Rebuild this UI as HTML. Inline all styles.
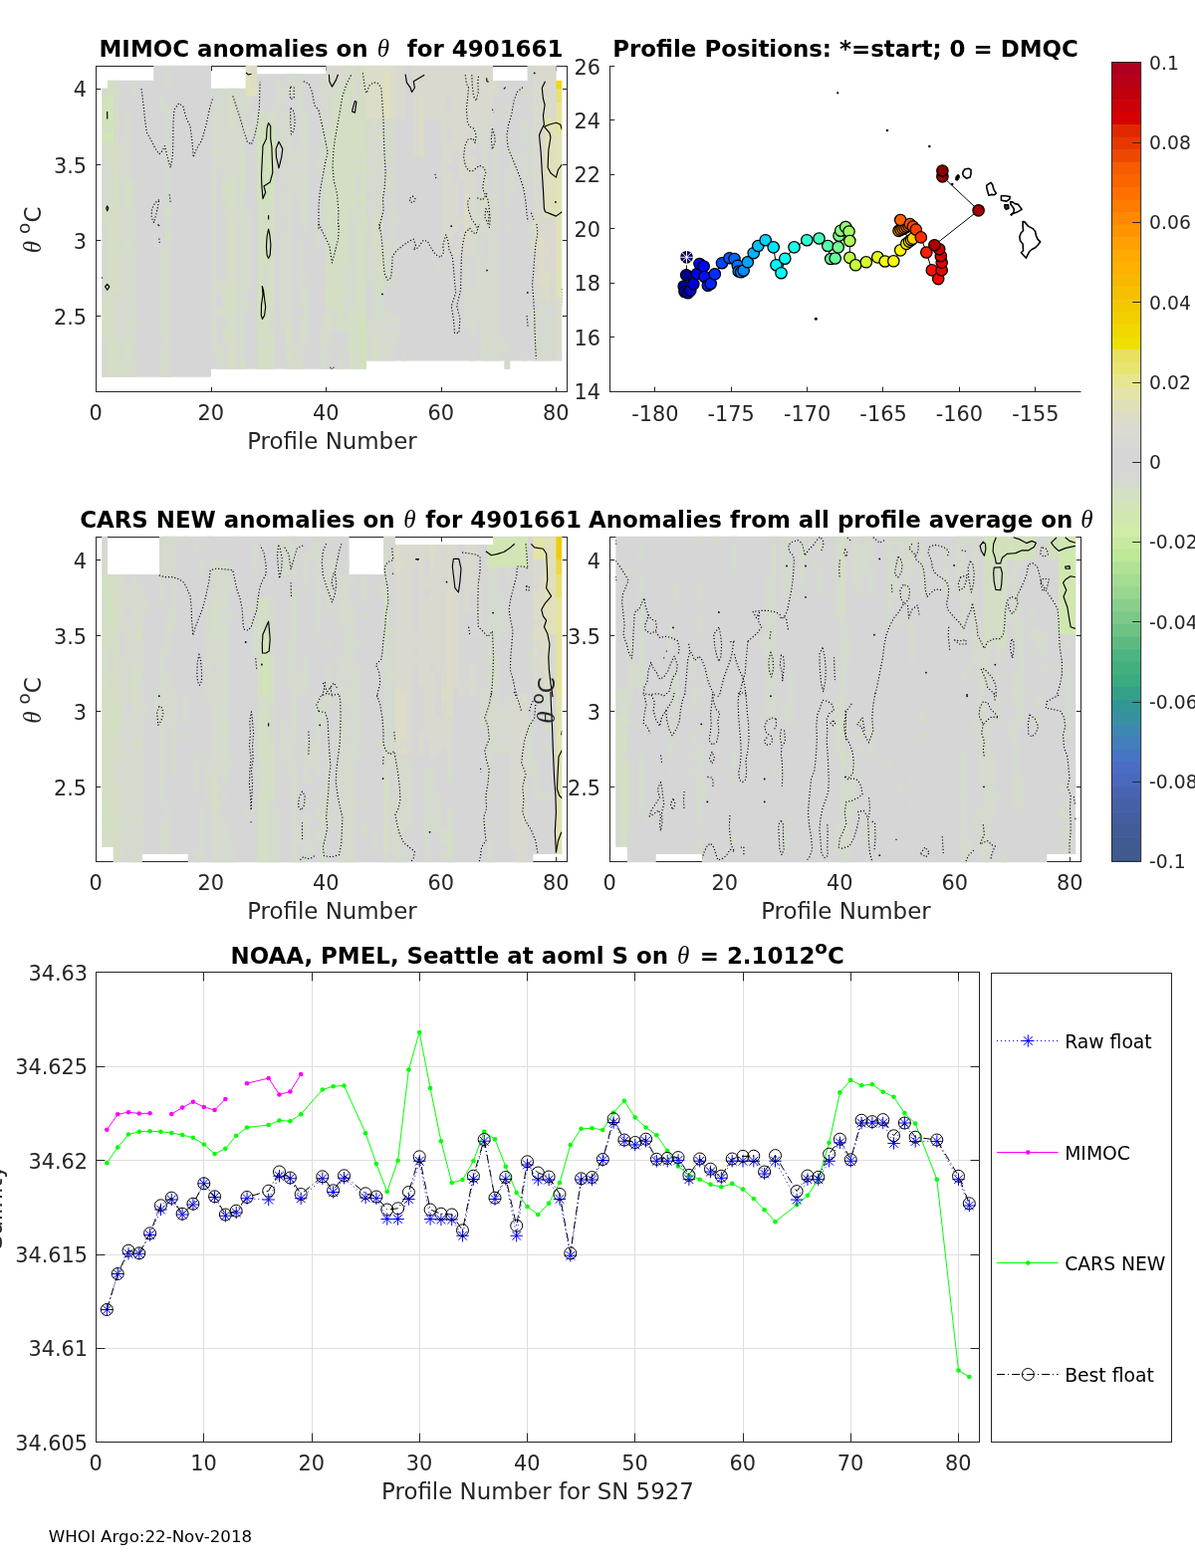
<!DOCTYPE html>
<html><head><meta charset="utf-8"><title>Argo float 4901661 anomalies</title>
<style>html,body{margin:0;padding:0;background:#fff}svg{display:block}text{font-family:'DejaVu Sans', 'Liberation Sans', sans-serif}</style></head><body>
<svg width="1200" height="1575" viewBox="0 0 1200 1575">
<rect width="1200" height="1575" fill="#fff"/>
<rect x="96.5" y="66.5" width="473.0" height="327.0" fill="none" stroke="#262626" stroke-width="1"/>
<line x1="96.50" y1="393.50" x2="96.50" y2="388.80" stroke="#262626" stroke-width="1" />
<line x1="96.50" y1="66.50" x2="96.50" y2="71.20" stroke="#262626" stroke-width="1" />
<line x1="212.50" y1="393.50" x2="212.50" y2="388.80" stroke="#262626" stroke-width="1" />
<line x1="212.50" y1="66.50" x2="212.50" y2="71.20" stroke="#262626" stroke-width="1" />
<line x1="327.50" y1="393.50" x2="327.50" y2="388.80" stroke="#262626" stroke-width="1" />
<line x1="327.50" y1="66.50" x2="327.50" y2="71.20" stroke="#262626" stroke-width="1" />
<line x1="443.50" y1="393.50" x2="443.50" y2="388.80" stroke="#262626" stroke-width="1" />
<line x1="443.50" y1="66.50" x2="443.50" y2="71.20" stroke="#262626" stroke-width="1" />
<line x1="558.50" y1="393.50" x2="558.50" y2="388.80" stroke="#262626" stroke-width="1" />
<line x1="558.50" y1="66.50" x2="558.50" y2="71.20" stroke="#262626" stroke-width="1" />
<line x1="96.50" y1="89.50" x2="101.20" y2="89.50" stroke="#262626" stroke-width="1" />
<line x1="569.50" y1="89.50" x2="564.80" y2="89.50" stroke="#262626" stroke-width="1" />
<line x1="96.50" y1="165.50" x2="101.20" y2="165.50" stroke="#262626" stroke-width="1" />
<line x1="569.50" y1="165.50" x2="564.80" y2="165.50" stroke="#262626" stroke-width="1" />
<line x1="96.50" y1="241.50" x2="101.20" y2="241.50" stroke="#262626" stroke-width="1" />
<line x1="569.50" y1="241.50" x2="564.80" y2="241.50" stroke="#262626" stroke-width="1" />
<line x1="96.50" y1="317.50" x2="101.20" y2="317.50" stroke="#262626" stroke-width="1" />
<line x1="569.50" y1="317.50" x2="564.80" y2="317.50" stroke="#262626" stroke-width="1" />
<rect x="96.5" y="539.5" width="473.0" height="326.0" fill="none" stroke="#262626" stroke-width="1"/>
<line x1="96.50" y1="865.50" x2="96.50" y2="860.80" stroke="#262626" stroke-width="1" />
<line x1="96.50" y1="539.50" x2="96.50" y2="544.20" stroke="#262626" stroke-width="1" />
<line x1="212.50" y1="865.50" x2="212.50" y2="860.80" stroke="#262626" stroke-width="1" />
<line x1="212.50" y1="539.50" x2="212.50" y2="544.20" stroke="#262626" stroke-width="1" />
<line x1="327.50" y1="865.50" x2="327.50" y2="860.80" stroke="#262626" stroke-width="1" />
<line x1="327.50" y1="539.50" x2="327.50" y2="544.20" stroke="#262626" stroke-width="1" />
<line x1="443.50" y1="865.50" x2="443.50" y2="860.80" stroke="#262626" stroke-width="1" />
<line x1="443.50" y1="539.50" x2="443.50" y2="544.20" stroke="#262626" stroke-width="1" />
<line x1="558.50" y1="865.50" x2="558.50" y2="860.80" stroke="#262626" stroke-width="1" />
<line x1="558.50" y1="539.50" x2="558.50" y2="544.20" stroke="#262626" stroke-width="1" />
<line x1="96.50" y1="562.50" x2="101.20" y2="562.50" stroke="#262626" stroke-width="1" />
<line x1="569.50" y1="562.50" x2="564.80" y2="562.50" stroke="#262626" stroke-width="1" />
<line x1="96.50" y1="638.50" x2="101.20" y2="638.50" stroke="#262626" stroke-width="1" />
<line x1="569.50" y1="638.50" x2="564.80" y2="638.50" stroke="#262626" stroke-width="1" />
<line x1="96.50" y1="714.50" x2="101.20" y2="714.50" stroke="#262626" stroke-width="1" />
<line x1="569.50" y1="714.50" x2="564.80" y2="714.50" stroke="#262626" stroke-width="1" />
<line x1="96.50" y1="790.50" x2="101.20" y2="790.50" stroke="#262626" stroke-width="1" />
<line x1="569.50" y1="790.50" x2="564.80" y2="790.50" stroke="#262626" stroke-width="1" />
<rect x="612.5" y="539.5" width="473.0" height="326.0" fill="none" stroke="#262626" stroke-width="1"/>
<line x1="612.50" y1="865.50" x2="612.50" y2="860.80" stroke="#262626" stroke-width="1" />
<line x1="612.50" y1="539.50" x2="612.50" y2="544.20" stroke="#262626" stroke-width="1" />
<line x1="728.50" y1="865.50" x2="728.50" y2="860.80" stroke="#262626" stroke-width="1" />
<line x1="728.50" y1="539.50" x2="728.50" y2="544.20" stroke="#262626" stroke-width="1" />
<line x1="843.50" y1="865.50" x2="843.50" y2="860.80" stroke="#262626" stroke-width="1" />
<line x1="843.50" y1="539.50" x2="843.50" y2="544.20" stroke="#262626" stroke-width="1" />
<line x1="959.50" y1="865.50" x2="959.50" y2="860.80" stroke="#262626" stroke-width="1" />
<line x1="959.50" y1="539.50" x2="959.50" y2="544.20" stroke="#262626" stroke-width="1" />
<line x1="1074.50" y1="865.50" x2="1074.50" y2="860.80" stroke="#262626" stroke-width="1" />
<line x1="1074.50" y1="539.50" x2="1074.50" y2="544.20" stroke="#262626" stroke-width="1" />
<line x1="612.50" y1="562.50" x2="617.20" y2="562.50" stroke="#262626" stroke-width="1" />
<line x1="1085.50" y1="562.50" x2="1080.80" y2="562.50" stroke="#262626" stroke-width="1" />
<line x1="612.50" y1="638.50" x2="617.20" y2="638.50" stroke="#262626" stroke-width="1" />
<line x1="1085.50" y1="638.50" x2="1080.80" y2="638.50" stroke="#262626" stroke-width="1" />
<line x1="612.50" y1="714.50" x2="617.20" y2="714.50" stroke="#262626" stroke-width="1" />
<line x1="1085.50" y1="714.50" x2="1080.80" y2="714.50" stroke="#262626" stroke-width="1" />
<line x1="612.50" y1="790.50" x2="617.20" y2="790.50" stroke="#262626" stroke-width="1" />
<line x1="1085.50" y1="790.50" x2="1080.80" y2="790.50" stroke="#262626" stroke-width="1" />
<defs>
<clipPath id="c1"><polygon points="102.3,88.8 108.0,88.8 108.0,80.8 154.2,80.8 154.2,65.8 212.0,65.8 212.0,88.8 246.7,88.8 246.7,65.8 258.2,65.8 258.2,74.2 327.5,74.2 327.5,65.8 495.0,65.8 495.0,81.0 529.6,81.0 529.6,65.8 558.5,65.8 558.5,81.0 564.3,81.0 564.3,362.6 512.3,362.6 512.3,370.7 506.5,370.7 506.5,362.6 367.9,362.6 367.9,370.7 212.0,370.7 212.0,378.8 102.3,378.8"/></clipPath>
<clipPath id="c3"><polygon points="102.3,538.8 108.0,538.8 108.0,577.0 160.0,577.0 160.0,538.8 350.6,538.8 350.6,577.0 385.2,577.0 385.2,538.8 396.8,538.8 396.8,547.0 495.0,547.0 495.0,538.8 564.3,538.8 564.3,858.0 535.4,858.0 535.4,866.2 188.9,866.2 188.9,858.0 142.7,858.0 142.7,866.2 113.8,866.2 113.8,850.8 102.3,850.8"/></clipPath>
<clipPath id="c4"><polygon points="618.3,538.8 1080.3,538.8 1080.3,858.0 1051.4,858.0 1051.4,866.2 704.9,866.2 704.9,858.0 658.7,858.0 658.7,866.2 629.8,866.2 629.8,850.8 618.3,850.8"/></clipPath>
<filter id="bl" x="-5%" y="-5%" width="110%" height="110%"><feGaussianBlur stdDeviation="2.2 7"/></filter>
</defs>
<g clip-path="url(#c1)">
<rect x="96" y="65" width="474" height="330" fill="#d6d6d6"/>
<g>
<path d="M102.3 66.0H108.3V96.7H102.3ZM102.3 157.3H108.3V210.9H102.3ZM102.3 225.8H108.3V302.2H102.3ZM102.3 339.9H108.3V385.9H102.3ZM108.0 164.9H114.1V203.3H108.0ZM113.8 66.0H119.9V89.1H113.8ZM113.8 96.4H119.9V111.9H113.8ZM113.8 126.8H119.9V142.4H113.8ZM113.8 294.3H119.9V340.2H113.8ZM113.8 378.0H119.9V385.9H113.8ZM119.6 66.0H125.7V73.9H119.6ZM119.6 142.1H125.7V203.3H119.6ZM119.6 210.6H125.7V385.9H119.6ZM125.4 111.6H131.5V180.4H125.4ZM125.4 210.6H131.5V241.3H125.4ZM125.4 248.6H131.5V340.2H125.4ZM125.4 362.8H131.5V370.7H125.4ZM131.2 81.2H137.2V96.7H131.2ZM131.2 180.1H137.2V317.4H131.2ZM131.2 324.7H137.2V385.9H131.2ZM160.0 96.4H166.1V111.9H160.0ZM160.0 248.6H166.1V340.2H160.0ZM160.0 347.5H166.1V385.9H160.0ZM165.8 66.0H171.9V89.1H165.8ZM165.8 104.0H171.9V210.9H165.8ZM165.8 218.2H171.9V233.7H165.8ZM165.8 241.0H171.9V385.9H165.8ZM212.0 88.8H218.1V96.7H212.0ZM212.0 104.0H218.1V150.0H212.0ZM212.0 157.3H218.1V355.5H212.0ZM217.8 88.8H223.9V172.8H217.8ZM217.8 279.1H223.9V294.6H217.8ZM217.8 309.5H223.9V317.4H217.8ZM217.8 347.5H223.9V385.9H217.8ZM223.6 88.8H229.6V180.4H223.6ZM223.6 202.9H229.6V287.0H223.6ZM223.6 317.1H229.6V332.6H223.6ZM223.6 339.9H229.6V385.9H223.6ZM229.3 66.0H235.4V89.1H229.3ZM229.3 126.8H235.4V172.8H229.3ZM229.3 210.6H235.4V218.5H229.3ZM235.1 66.0H241.2V81.5H235.1ZM235.1 88.8H241.2V385.9H235.1ZM240.9 88.8H247.0V157.6H240.9ZM240.9 187.7H247.0V363.1H240.9ZM240.9 370.4H247.0V385.9H240.9ZM246.7 96.4H252.7V111.9H246.7ZM246.7 126.8H252.7V134.8H246.7ZM246.7 210.6H252.7V294.6H246.7ZM246.7 301.9H252.7V309.8H246.7ZM252.4 111.6H258.5V119.5H252.4ZM252.4 126.8H258.5V134.8H252.4ZM264.0 111.6H270.1V119.5H264.0ZM264.0 263.8H270.1V287.0H264.0ZM264.0 339.9H270.1V347.8H264.0ZM264.0 378.0H270.1V385.9H264.0ZM269.8 248.6H275.8V256.5H269.8ZM269.8 309.5H275.8V332.6H269.8ZM269.8 378.0H275.8V385.9H269.8ZM275.5 81.2H281.6V150.0H275.5ZM281.3 88.8H287.4V104.3H281.3ZM281.3 111.6H287.4V157.6H281.3ZM281.3 164.9H287.4V188.0H281.3ZM281.3 195.3H287.4V218.5H281.3ZM281.3 233.4H287.4V332.6H281.3ZM287.1 66.0H293.2V96.7H287.1ZM287.1 111.6H293.2V325.0H287.1ZM287.1 347.5H293.2V355.5H287.1ZM287.1 362.8H293.2V385.9H287.1ZM292.9 66.0H298.9V96.7H292.9ZM292.9 149.7H298.9V165.2H292.9ZM292.9 172.5H298.9V195.6H292.9ZM292.9 347.5H298.9V385.9H292.9ZM298.6 66.0H304.7V226.1H298.6ZM298.6 241.0H304.7V309.8H298.6ZM298.6 317.1H304.7V363.1H298.6ZM298.6 378.0H304.7V385.9H298.6ZM304.4 111.6H310.5V233.7H304.4ZM304.4 271.4H310.5V279.4H304.4ZM304.4 286.7H310.5V347.8H304.4ZM316.0 157.3H322.0V172.8H316.0ZM316.0 225.8H322.0V248.9H316.0ZM321.7 73.6H327.8V104.3H321.7ZM321.7 111.6H327.8V226.1H321.7ZM321.7 317.1H327.8V385.9H321.7ZM327.5 88.8H333.6V134.8H327.5ZM327.5 332.3H333.6V347.8H327.5ZM327.5 355.2H333.6V363.1H327.5ZM327.5 370.4H333.6V378.3H327.5ZM333.3 81.2H339.4V96.7H333.3ZM333.3 309.5H339.4V332.6H333.3ZM333.3 370.4H339.4V385.9H333.3ZM339.1 81.2H345.1V89.1H339.1ZM339.1 355.2H345.1V370.7H339.1ZM344.8 81.2H350.9V89.1H344.8ZM344.8 263.8H350.9V325.0H344.8ZM344.8 339.9H350.9V355.5H344.8ZM344.8 370.4H350.9V378.3H344.8ZM350.6 96.4H356.7V104.3H350.6ZM350.6 210.6H356.7V309.8H350.6ZM356.4 66.0H362.5V96.7H356.4ZM356.4 157.3H362.5V165.2H356.4ZM356.4 172.5H362.5V195.6H356.4ZM356.4 202.9H362.5V210.9H356.4ZM356.4 218.2H362.5V226.1H356.4ZM367.9 119.2H374.0V188.0H367.9ZM367.9 202.9H374.0V210.9H367.9ZM367.9 218.2H374.0V279.4H367.9ZM367.9 324.7H374.0V385.9H367.9ZM373.7 126.8H379.8V218.5H373.7ZM373.7 248.6H379.8V332.6H373.7ZM373.7 362.8H379.8V385.9H373.7ZM379.5 119.2H385.6V134.8H379.5ZM379.5 142.1H385.6V157.6H379.5ZM379.5 164.9H385.6V248.9H379.5ZM379.5 294.3H385.6V363.1H379.5ZM385.2 119.2H391.3V165.2H385.2ZM385.2 172.5H391.3V188.0H385.2ZM385.2 241.0H391.3V287.0H385.2ZM385.2 309.5H391.3V385.9H385.2ZM391.0 119.2H397.1V264.1H391.0ZM391.0 271.4H397.1V287.0H391.0ZM391.0 317.1H397.1V325.0H391.0ZM391.0 332.3H397.1V385.9H391.0ZM396.8 218.2H402.9V226.1H396.8ZM396.8 248.6H402.9V256.5H396.8ZM396.8 317.1H402.9V340.2H396.8ZM402.6 355.2H408.7V363.1H402.6ZM437.2 263.8H443.3V271.7H437.2ZM466.1 263.8H472.2V325.0H466.1ZM471.9 286.7H478.0V340.2H471.9ZM471.9 355.2H478.0V385.9H471.9ZM477.7 126.8H483.7V142.4H477.7ZM477.7 195.3H483.7V317.4H477.7ZM483.4 119.2H489.5V195.6H483.4ZM483.4 202.9H489.5V233.7H483.4ZM483.4 263.8H489.5V347.8H483.4ZM483.4 355.2H489.5V385.9H483.4ZM489.2 119.2H495.3V127.1H489.2ZM489.2 195.3H495.3V385.9H489.2ZM495.0 134.5H501.1V385.9H495.0ZM500.8 339.9H506.8V355.5H500.8ZM500.8 362.8H506.8V370.7H500.8ZM506.5 104.0H512.6V119.5H506.5ZM506.5 134.5H512.6V142.4H506.5ZM506.5 149.7H512.6V157.6H506.5ZM506.5 172.5H512.6V210.9H506.5ZM506.5 225.8H512.6V233.7H506.5ZM506.5 263.8H512.6V271.7H506.5ZM506.5 339.9H512.6V355.5H506.5ZM506.5 362.8H512.6V385.9H506.5ZM512.3 149.7H518.4V195.6H512.3ZM523.9 88.8H529.9V96.7H523.9ZM523.9 119.2H529.9V142.4H523.9ZM523.9 149.7H529.9V188.0H523.9ZM523.9 355.2H529.9V385.9H523.9ZM529.6 66.0H535.7V73.9H529.6ZM529.6 88.8H535.7V96.7H529.6ZM529.6 104.0H535.7V111.9H529.6ZM529.6 126.8H535.7V142.4H529.6ZM529.6 149.7H535.7V157.6H529.6ZM529.6 164.9H535.7V180.4H529.6ZM529.6 225.8H535.7V233.7H529.6ZM529.6 241.0H535.7V248.9H529.6ZM535.4 309.5H541.5V363.1H535.4ZM535.4 370.4H541.5V385.9H535.4ZM541.2 301.9H547.2V317.4H541.2ZM541.2 332.3H547.2V370.7H541.2ZM541.2 378.0H547.2V385.9H541.2ZM547.0 301.9H553.0V385.9H547.0ZM552.7 301.9H558.8V309.8H552.7ZM552.7 317.1H558.8V355.5H552.7ZM552.7 362.8H558.8V378.3H552.7Z" fill="#d4dacd"/>
<path d="M102.3 96.4H108.3V134.8H102.3ZM108.0 104.0H114.1V111.9H108.0ZM108.0 119.2H114.1V134.8H108.0ZM229.3 294.3H235.4V302.2H229.3ZM258.2 126.8H264.3V203.3H258.2ZM258.2 286.7H264.3V325.0H258.2ZM264.0 126.8H270.1V203.3H264.0ZM264.0 225.8H270.1V264.1H264.0ZM264.0 286.7H270.1V325.0H264.0ZM269.8 126.8H275.8V134.8H269.8ZM269.8 149.7H275.8V165.2H269.8ZM269.8 172.5H275.8V203.3H269.8ZM327.5 263.8H333.6V271.7H327.5ZM327.5 286.7H333.6V302.2H327.5ZM333.3 157.3H339.4V165.2H333.3ZM339.1 180.1H345.1V188.0H339.1ZM339.1 286.7H345.1V294.6H339.1ZM362.2 66.0H368.2V73.9H362.2ZM362.2 317.1H368.2V378.3H362.2Z" fill="#d2e1bd"/>
<path d="M102.3 134.5H108.3V142.4H102.3ZM108.0 96.4H114.1V104.3H108.0ZM108.0 111.6H114.1V119.5H108.0ZM108.0 134.5H114.1V142.4H108.0ZM269.8 134.5H275.8V150.0H269.8ZM269.8 164.9H275.8V172.8H269.8Z" fill="#d2e5b6"/>
<path d="M102.3 142.1H108.3V157.6H102.3ZM102.3 210.6H108.3V226.1H102.3ZM102.3 301.9H108.3V340.2H102.3ZM108.0 66.0H114.1V96.7H108.0ZM108.0 142.1H114.1V165.2H108.0ZM108.0 202.9H114.1V385.9H108.0ZM113.8 88.8H119.9V96.7H113.8ZM113.8 111.6H119.9V127.1H113.8ZM113.8 142.1H119.9V294.6H113.8ZM113.8 339.9H119.9V378.3H113.8ZM125.4 180.1H131.5V210.9H125.4ZM125.4 241.0H131.5V248.9H125.4ZM125.4 339.9H131.5V363.1H125.4ZM125.4 370.4H131.5V385.9H125.4ZM131.2 317.1H137.2V325.0H131.2ZM165.8 210.6H171.9V218.5H165.8ZM165.8 233.4H171.9V241.3H165.8ZM212.0 149.7H218.1V157.6H212.0ZM223.6 180.1H229.6V203.3H223.6ZM223.6 286.7H229.6V317.4H223.6ZM223.6 332.3H229.6V340.2H223.6ZM229.3 88.8H235.4V127.1H229.3ZM229.3 172.5H235.4V210.9H229.3ZM229.3 218.2H235.4V294.6H229.3ZM229.3 301.9H235.4V385.9H229.3ZM240.9 157.3H247.0V188.0H240.9ZM240.9 362.8H247.0V370.7H240.9ZM258.2 111.6H264.3V127.1H258.2ZM258.2 202.9H264.3V287.0H258.2ZM258.2 324.7H264.3V385.9H258.2ZM264.0 119.2H270.1V127.1H264.0ZM264.0 202.9H270.1V226.1H264.0ZM264.0 324.7H270.1V340.2H264.0ZM264.0 347.5H270.1V378.3H264.0ZM269.8 111.6H275.8V127.1H269.8ZM269.8 202.9H275.8V248.9H269.8ZM269.8 256.2H275.8V309.8H269.8ZM269.8 332.3H275.8V378.3H269.8ZM287.1 324.7H293.2V347.8H287.1ZM287.1 355.2H293.2V363.1H287.1ZM298.6 362.8H304.7V378.3H298.6ZM327.5 81.2H333.6V89.1H327.5ZM327.5 134.5H333.6V264.1H327.5ZM327.5 271.4H333.6V287.0H327.5ZM327.5 301.9H333.6V332.6H327.5ZM333.3 96.4H339.4V157.6H333.3ZM333.3 164.9H339.4V309.8H333.3ZM339.1 88.8H345.1V180.4H339.1ZM339.1 187.7H345.1V287.0H339.1ZM339.1 294.3H345.1V332.6H339.1ZM344.8 88.8H350.9V264.1H344.8ZM344.8 324.7H350.9V332.6H344.8ZM350.6 66.0H356.7V96.7H350.6ZM350.6 104.0H356.7V210.9H350.6ZM350.6 309.5H356.7V385.9H350.6ZM356.4 96.4H362.5V157.6H356.4ZM356.4 164.9H362.5V172.8H356.4ZM356.4 195.3H362.5V203.3H356.4ZM356.4 210.6H362.5V218.5H356.4ZM356.4 225.8H362.5V385.9H356.4ZM362.2 73.6H368.2V317.4H362.2ZM362.2 378.0H368.2V385.9H362.2ZM373.7 119.2H379.8V127.1H373.7ZM373.7 218.2H379.8V248.9H373.7ZM373.7 332.3H379.8V363.1H373.7ZM379.5 134.5H385.6V142.4H379.5ZM379.5 157.3H385.6V165.2H379.5ZM379.5 248.6H385.6V294.6H379.5ZM379.5 362.8H385.6V385.9H379.5ZM483.4 195.3H489.5V203.3H483.4ZM483.4 347.5H489.5V355.5H483.4Z" fill="#d3dec5"/>
<path d="M246.7 66.0H252.7V96.7H246.7ZM252.4 88.8H258.5V96.7H252.4ZM385.2 73.6H391.3V119.5H385.2ZM547.0 126.8H553.0V218.5H547.0ZM552.7 119.2H558.8V218.5H552.7Z" fill="#e0e0bc"/>
<path d="M252.4 66.0H258.5V89.1H252.4ZM327.5 73.6H333.6V81.5H327.5ZM367.9 66.0H374.0V119.5H367.9ZM373.7 66.0H379.8V119.5H373.7ZM379.5 66.0H385.6V119.5H379.5ZM385.2 66.0H391.3V73.9H385.2ZM391.0 66.0H397.1V119.5H391.0ZM419.9 96.4H426.0V157.6H419.9ZM466.1 73.6H472.2V81.5H466.1ZM466.1 195.3H472.2V241.3H466.1ZM471.9 96.4H478.0V104.3H471.9ZM489.2 88.8H495.3V96.7H489.2ZM535.4 218.2H541.5V248.9H535.4ZM541.2 142.1H547.2V150.0H541.2ZM541.2 233.4H547.2V287.0H541.2ZM547.0 96.4H553.0V119.5H547.0ZM547.0 248.6H553.0V256.5H547.0ZM547.0 271.4H553.0V302.2H547.0Z" fill="#dcdcc8"/>
<path d="M327.5 66.0H333.6V73.9H327.5ZM333.3 66.0H339.4V81.5H333.3ZM339.1 66.0H345.1V81.5H339.1ZM344.8 66.0H350.9V81.5H344.8ZM396.8 66.0H402.9V119.5H396.8ZM402.6 66.0H408.7V119.5H402.6ZM414.1 66.0H420.2V157.6H414.1ZM419.9 66.0H426.0V96.7H419.9ZM425.7 66.0H431.8V119.5H425.7ZM431.5 66.0H437.5V119.5H431.5ZM437.2 66.0H443.3V119.5H437.2ZM443.0 66.0H449.1V256.5H443.0ZM448.8 66.0H454.9V96.7H448.8ZM448.8 111.6H454.9V127.1H448.8ZM448.8 142.1H454.9V165.2H448.8ZM448.8 172.5H454.9V248.9H448.8ZM454.6 66.0H460.6V150.0H454.6ZM454.6 180.1H460.6V233.7H454.6ZM454.6 248.6H460.6V256.5H454.6ZM460.3 66.0H466.4V180.4H460.3ZM460.3 218.2H466.4V226.1H460.3ZM460.3 233.4H466.4V256.5H460.3ZM466.1 66.0H472.2V73.9H466.1ZM466.1 81.2H472.2V195.6H466.1ZM466.1 241.0H472.2V256.5H466.1ZM471.9 66.0H478.0V96.7H471.9ZM471.9 104.0H478.0V150.0H471.9ZM471.9 157.3H478.0V256.5H471.9ZM477.7 66.0H483.7V119.5H477.7ZM483.4 66.0H489.5V119.5H483.4ZM489.2 66.0H495.3V89.1H489.2ZM489.2 96.4H495.3V119.5H489.2ZM495.0 66.0H501.1V96.7H495.0ZM535.4 66.0H541.5V218.5H535.4ZM535.4 248.6H541.5V302.2H535.4ZM541.2 66.0H547.2V142.4H541.2ZM541.2 149.7H547.2V180.4H541.2ZM541.2 202.9H547.2V233.7H541.2ZM541.2 286.7H547.2V302.2H541.2ZM547.0 66.0H553.0V96.7H547.0ZM547.0 218.2H553.0V248.9H547.0ZM547.0 256.2H553.0V271.7H547.0ZM552.7 66.0H558.8V119.5H552.7ZM552.7 218.2H558.8V302.2H552.7Z" fill="#d9d9d0"/>
<path d="M547.0 119.2H553.0V127.1H547.0Z" fill="#e4e4a8"/>
</g>
<rect x="558.5" y="81.0" width="5.8" height="8.0" fill="#f0d800" opacity="1"/>
<rect x="558.5" y="89.0" width="5.8" height="14.0" fill="#e8e070" opacity="1"/>
<rect x="558.5" y="103.0" width="5.8" height="32.0" fill="#e6e498" opacity="1"/>
<rect x="558.5" y="135.0" width="5.8" height="165.0" fill="#e2e2b8" opacity="1"/>
<rect x="558.5" y="300.0" width="5.8" height="63.0" fill="#dcdccc" opacity="1"/>
</g>
<g clip-path="url(#c3)">
<rect x="96" y="538" width="474" height="329" fill="#d6d6d6"/>
<g>
<path d="M102.3 547.0H108.3V577.3H102.3ZM108.0 652.0H114.1V674.8H108.0ZM108.0 682.0H114.1V689.8H108.0ZM113.8 764.5H119.9V787.3H113.8ZM119.6 577.0H125.7V629.8H119.6ZM119.6 659.5H125.7V862.3H119.6ZM125.4 592.0H131.5V607.3H125.4ZM125.4 622.0H131.5V704.8H125.4ZM125.4 719.5H131.5V734.8H125.4ZM125.4 742.0H131.5V854.8H125.4ZM131.2 539.5H137.2V667.3H131.2ZM131.2 704.5H137.2V869.8H131.2ZM136.9 532.0H143.0V554.8H136.9ZM136.9 584.5H143.0V629.8H136.9ZM136.9 644.5H143.0V674.8H136.9ZM136.9 682.0H143.0V742.3H136.9ZM136.9 749.5H143.0V817.3H136.9ZM136.9 824.5H143.0V869.8H136.9ZM142.7 599.5H148.8V614.8H142.7ZM142.7 704.5H148.8V719.8H142.7ZM154.2 689.5H160.3V719.8H154.2ZM160.0 539.5H166.1V607.3H160.0ZM160.0 652.0H166.1V809.8H160.0ZM160.0 824.5H166.1V869.8H160.0ZM165.8 532.0H171.9V577.3H165.8ZM165.8 614.5H171.9V659.8H165.8ZM165.8 674.5H171.9V727.3H165.8ZM165.8 809.5H171.9V854.8H165.8ZM171.6 532.0H177.7V629.8H171.6ZM171.6 689.5H177.7V779.8H171.6ZM183.1 532.0H189.2V547.3H183.1ZM183.1 697.0H189.2V727.3H183.1ZM183.1 734.5H189.2V742.3H183.1ZM194.7 547.0H200.8V554.8H194.7ZM194.7 757.0H200.8V794.8H194.7ZM194.7 854.5H200.8V869.8H194.7ZM200.4 562.0H206.5V577.3H200.4ZM200.4 599.5H206.5V607.3H200.4ZM200.4 809.5H206.5V862.3H200.4ZM206.2 532.0H212.3V547.3H206.2ZM206.2 607.0H212.3V704.8H206.2ZM206.2 764.5H212.3V809.8H206.2ZM212.0 562.0H218.1V599.8H212.0ZM212.0 637.0H218.1V667.3H212.0ZM212.0 674.5H218.1V779.8H212.0ZM212.0 817.0H218.1V869.8H212.0ZM217.8 562.0H223.9V779.8H217.8ZM217.8 787.0H223.9V794.8H217.8ZM217.8 802.0H223.9V809.8H217.8ZM217.8 817.0H223.9V869.8H217.8ZM223.6 562.0H229.6V719.8H223.6ZM223.6 742.0H229.6V787.3H223.6ZM223.6 794.5H229.6V802.3H223.6ZM223.6 824.5H229.6V869.8H223.6ZM229.3 577.0H235.4V592.3H229.3ZM229.3 614.5H235.4V622.3H229.3ZM229.3 764.5H235.4V772.3H229.3ZM229.3 847.0H235.4V869.8H229.3ZM235.1 532.0H241.2V539.8H235.1ZM246.7 809.5H252.7V824.8H246.7ZM252.4 547.0H258.5V577.3H252.4ZM252.4 607.0H258.5V614.8H252.4ZM252.4 622.0H258.5V659.8H252.4ZM252.4 772.0H258.5V779.8H252.4ZM258.2 637.0H264.3V644.8H258.2ZM258.2 704.5H264.3V712.3H258.2ZM258.2 764.5H264.3V794.8H258.2ZM264.0 622.0H270.1V637.3H264.0ZM269.8 599.5H275.8V659.8H269.8ZM269.8 704.5H275.8V749.8H269.8ZM269.8 802.0H275.8V869.8H269.8ZM275.5 547.0H281.6V554.8H275.5ZM275.5 817.0H281.6V869.8H275.5ZM281.3 539.5H287.4V577.3H281.3ZM281.3 719.5H287.4V764.8H281.3ZM287.1 532.0H293.2V577.3H287.1ZM287.1 644.5H293.2V689.8H287.1ZM287.1 734.5H293.2V779.8H287.1ZM292.9 532.0H298.9V539.8H292.9ZM292.9 547.0H298.9V584.8H292.9ZM292.9 592.0H298.9V749.8H292.9ZM292.9 764.5H298.9V869.8H292.9ZM298.6 674.5H304.7V697.3H298.6ZM298.6 832.0H304.7V847.3H298.6ZM298.6 862.0H304.7V869.8H298.6ZM304.4 554.5H310.5V592.3H304.4ZM304.4 659.5H310.5V697.3H304.4ZM304.4 742.0H310.5V787.3H304.4ZM304.4 802.0H310.5V809.8H304.4ZM304.4 817.0H310.5V869.8H304.4ZM310.2 547.0H316.3V562.3H310.2ZM310.2 749.5H316.3V772.3H310.2ZM310.2 779.5H316.3V787.3H310.2ZM310.2 847.0H316.3V854.8H310.2ZM316.0 539.5H322.0V637.3H316.0ZM316.0 704.5H322.0V779.8H316.0ZM316.0 794.5H322.0V802.3H316.0ZM316.0 809.5H322.0V824.8H316.0ZM316.0 832.0H322.0V847.3H316.0ZM321.7 697.0H327.8V734.8H321.7ZM321.7 802.0H327.8V869.8H321.7ZM327.5 539.5H333.6V547.3H327.5ZM327.5 554.5H333.6V614.8H327.5ZM327.5 644.5H333.6V652.3H327.5ZM327.5 667.0H333.6V712.3H327.5ZM327.5 757.0H333.6V832.3H327.5ZM333.3 562.0H339.4V577.3H333.3ZM333.3 592.0H339.4V599.8H333.3ZM333.3 734.5H339.4V749.8H333.3ZM339.1 577.0H345.1V629.8H339.1ZM339.1 659.5H345.1V869.8H339.1ZM344.8 562.0H350.9V569.8H344.8ZM344.8 577.0H350.9V682.3H344.8ZM344.8 689.5H350.9V704.8H344.8ZM344.8 719.5H350.9V742.3H344.8ZM344.8 749.5H350.9V869.8H344.8ZM350.6 577.0H356.7V584.8H350.6ZM350.6 607.0H356.7V719.8H350.6ZM350.6 727.0H356.7V734.8H350.6ZM350.6 742.0H356.7V869.8H350.6ZM356.4 644.5H362.5V652.3H356.4ZM356.4 667.0H362.5V749.8H356.4ZM356.4 757.0H362.5V764.8H356.4ZM362.2 577.0H368.2V607.3H362.2ZM362.2 614.5H368.2V622.3H362.2ZM362.2 802.0H368.2V809.8H362.2ZM362.2 824.5H368.2V839.8H362.2ZM373.7 832.0H379.8V854.8H373.7ZM379.5 584.5H385.6V599.8H379.5ZM379.5 742.0H385.6V749.8H379.5ZM385.2 532.0H391.3V592.3H385.2ZM385.2 637.0H391.3V779.8H385.2ZM385.2 854.5H391.3V869.8H385.2ZM391.0 532.0H397.1V547.3H391.0ZM391.0 554.5H397.1V562.3H391.0ZM391.0 629.5H397.1V674.8H391.0ZM391.0 682.0H397.1V772.3H391.0ZM391.0 802.0H397.1V817.3H391.0ZM391.0 824.5H397.1V854.8H391.0ZM396.8 532.0H402.9V547.3H396.8ZM396.8 757.0H402.9V869.8H396.8ZM402.6 532.0H408.7V547.3H402.6ZM402.6 757.0H408.7V847.3H402.6ZM402.6 854.5H408.7V869.8H402.6ZM408.4 532.0H414.4V547.3H408.4ZM408.4 764.5H414.4V832.3H408.4ZM425.7 772.0H431.8V862.3H425.7ZM431.5 532.0H437.5V547.3H431.5ZM431.5 757.0H437.5V764.8H431.5ZM431.5 772.0H437.5V809.8H431.5ZM431.5 817.0H437.5V832.3H431.5ZM437.2 532.0H443.3V547.3H437.2ZM437.2 794.5H443.3V839.8H437.2ZM443.0 832.0H449.1V847.3H443.0ZM443.0 854.5H449.1V862.3H443.0ZM448.8 532.0H454.9V547.3H448.8ZM448.8 757.0H454.9V787.3H448.8ZM448.8 809.5H454.9V832.3H448.8ZM448.8 862.0H454.9V869.8H448.8ZM466.1 532.0H472.2V539.8H466.1ZM483.4 689.5H489.5V727.3H483.4ZM489.2 569.5H495.3V659.8H489.2ZM489.2 667.0H495.3V674.8H489.2ZM489.2 682.0H495.3V787.3H489.2ZM489.2 794.5H495.3V802.3H489.2ZM489.2 824.5H495.3V832.3H489.2ZM489.2 839.5H495.3V869.8H489.2ZM495.0 569.5H501.1V607.3H495.0ZM495.0 614.5H501.1V652.3H495.0ZM495.0 659.5H501.1V757.3H495.0ZM500.8 599.5H506.8V637.3H500.8ZM500.8 712.0H506.8V734.8H500.8ZM500.8 742.0H506.8V757.3H500.8ZM506.5 569.5H512.6V584.8H506.5ZM506.5 697.0H512.6V757.3H506.5ZM529.6 569.5H535.7V577.3H529.6ZM529.6 637.0H535.7V644.8H529.6ZM529.6 652.0H535.7V674.8H529.6ZM529.6 719.5H535.7V779.8H529.6ZM535.4 764.5H541.5V802.3H535.4ZM541.2 697.0H547.2V704.8H541.2ZM541.2 794.5H547.2V809.8H541.2ZM547.0 697.0H553.0V734.8H547.0ZM547.0 749.5H553.0V757.3H547.0ZM547.0 794.5H553.0V802.3H547.0Z" fill="#d4dacd"/>
<path d="M102.3 577.0H108.3V599.8H102.3ZM102.3 802.0H108.3V824.8H102.3ZM108.0 599.5H114.1V629.8H108.0ZM108.0 719.5H114.1V727.3H108.0ZM108.0 824.5H114.1V832.3H108.0ZM113.8 704.5H119.9V727.3H113.8Z" fill="#d2e1bd"/>
<path d="M102.3 599.5H108.3V802.3H102.3ZM102.3 824.5H108.3V869.8H102.3ZM108.0 577.0H114.1V599.8H108.0ZM108.0 629.5H114.1V652.3H108.0ZM108.0 674.5H114.1V682.3H108.0ZM108.0 689.5H114.1V719.8H108.0ZM108.0 727.0H114.1V824.8H108.0ZM108.0 832.0H114.1V869.8H108.0ZM113.8 577.0H119.9V704.8H113.8ZM113.8 727.0H119.9V764.8H113.8ZM113.8 787.0H119.9V869.8H113.8ZM131.2 667.0H137.2V704.8H131.2ZM136.9 629.5H143.0V644.8H136.9ZM136.9 674.5H143.0V682.3H136.9ZM136.9 742.0H143.0V749.8H136.9ZM136.9 817.0H143.0V824.8H136.9ZM212.0 599.5H218.1V637.3H212.0ZM212.0 779.5H218.1V817.3H212.0ZM223.6 719.5H229.6V742.3H223.6ZM258.2 599.5H264.3V637.3H258.2ZM258.2 644.5H264.3V704.8H258.2ZM258.2 712.0H264.3V764.8H258.2ZM258.2 794.5H264.3V869.8H258.2ZM264.0 599.5H270.1V622.3H264.0ZM264.0 697.0H270.1V869.8H264.0ZM269.8 659.5H275.8V704.8H269.8ZM269.8 749.5H275.8V802.3H269.8ZM385.2 592.0H391.3V637.3H385.2ZM385.2 779.5H391.3V854.8H385.2ZM391.0 674.5H397.1V682.3H391.0ZM448.8 832.0H454.9V862.3H448.8ZM489.2 659.5H495.3V667.3H489.2ZM489.2 674.5H495.3V682.3H489.2Z" fill="#d3dec5"/>
<path d="M264.0 637.0H270.1V682.3H264.0ZM264.0 689.5H270.1V697.3H264.0ZM489.2 539.5H495.3V569.8H489.2ZM495.0 562.0H501.1V569.8H495.0ZM500.8 539.5H506.8V569.8H500.8ZM506.5 554.5H512.6V569.8H506.5ZM512.3 539.5H518.4V569.8H512.3ZM518.1 539.5H524.1V569.8H518.1ZM523.9 547.0H529.9V562.3H523.9Z" fill="#d2e5b6"/>
<path d="M264.0 682.0H270.1V689.8H264.0ZM495.0 539.5H501.1V562.3H495.0ZM506.5 539.5H512.6V554.8H506.5ZM523.9 539.5H529.9V547.3H523.9ZM523.9 562.0H529.9V569.8H523.9Z" fill="#d0e8b0"/>
<path d="M396.8 547.0H402.9V577.3H396.8ZM396.8 689.5H402.9V749.8H396.8ZM402.6 562.0H408.7V569.8H402.6ZM402.6 697.0H408.7V742.3H402.6ZM402.6 749.5H408.7V757.3H402.6ZM431.5 547.0H437.5V569.8H431.5ZM443.0 689.5H449.1V704.8H443.0ZM448.8 592.0H454.9V719.8H448.8ZM523.9 697.0H529.9V704.8H523.9ZM535.4 592.0H541.5V622.3H535.4ZM535.4 629.5H541.5V644.8H535.4ZM535.4 652.0H541.5V659.8H535.4ZM541.2 577.0H547.2V652.3H541.2ZM541.2 659.5H547.2V667.3H541.2ZM547.0 637.0H553.0V697.3H547.0Z" fill="#dcdcc8"/>
<path d="M396.8 577.0H402.9V689.8H396.8ZM396.8 749.5H402.9V757.3H396.8ZM402.6 547.0H408.7V562.3H402.6ZM402.6 569.5H408.7V697.3H402.6ZM402.6 742.0H408.7V749.8H402.6ZM408.4 547.0H414.4V757.3H408.4ZM414.1 547.0H420.2V569.8H414.1ZM414.1 637.0H420.2V652.3H414.1ZM414.1 659.5H420.2V667.3H414.1ZM419.9 547.0H426.0V689.8H419.9ZM419.9 734.5H426.0V757.3H419.9ZM425.7 547.0H431.8V562.3H425.7ZM425.7 577.0H431.8V592.3H425.7ZM425.7 599.5H431.8V742.3H425.7ZM431.5 569.5H437.5V667.3H431.5ZM431.5 674.5H437.5V757.3H431.5ZM437.2 547.0H443.3V674.8H437.2ZM437.2 719.5H443.3V757.3H437.2ZM443.0 547.0H449.1V554.8H443.0ZM443.0 562.0H449.1V577.3H443.0ZM443.0 584.5H449.1V689.8H443.0ZM443.0 704.5H449.1V749.8H443.0ZM448.8 547.0H454.9V592.3H448.8ZM448.8 719.5H454.9V757.3H448.8ZM454.6 547.0H460.6V689.8H454.6ZM460.3 689.5H466.4V697.3H460.3ZM466.1 547.0H472.2V614.8H466.1ZM466.1 682.0H472.2V689.8H466.1ZM471.9 547.0H478.0V592.3H471.9ZM471.9 667.0H478.0V697.3H471.9ZM477.7 554.5H483.7V562.3H477.7ZM477.7 584.5H483.7V637.3H477.7ZM512.3 704.5H518.4V854.8H512.3ZM518.1 697.0H524.1V869.8H518.1ZM523.9 704.5H529.9V749.8H523.9ZM523.9 757.0H529.9V869.8H523.9ZM535.4 562.0H541.5V592.3H535.4ZM535.4 622.0H541.5V629.8H535.4ZM535.4 644.5H541.5V652.3H535.4ZM535.4 659.5H541.5V697.3H535.4ZM541.2 562.0H547.2V577.3H541.2ZM541.2 652.0H547.2V659.8H541.2ZM541.2 667.0H547.2V697.3H541.2ZM552.7 637.0H558.8V697.3H552.7Z" fill="#d9d9d0"/>
<path d="M535.4 539.5H541.5V562.3H535.4ZM541.2 539.5H547.2V562.3H541.2Z" fill="#e4e4a8"/>
<path d="M547.0 539.5H553.0V637.3H547.0ZM552.7 539.5H558.8V637.3H552.7Z" fill="#e0e0bc"/>
</g>
<rect x="558.5" y="539.0" width="5.8" height="23.0" fill="#f0cc00" opacity="1"/>
<rect x="558.5" y="562.0" width="5.8" height="15.0" fill="#ecd840" opacity="1"/>
<rect x="558.5" y="577.0" width="5.8" height="23.0" fill="#e8e070" opacity="1"/>
<rect x="558.5" y="600.0" width="5.8" height="100.0" fill="#e4e49c" opacity="1"/>
<rect x="558.5" y="700.0" width="5.8" height="166.0" fill="#e2e2b0" opacity="1"/>
</g>
<g clip-path="url(#c4)">
<rect x="612" y="538" width="474" height="329" fill="#d6d6d6"/>
<g>
<path d="M618.3 689.5H624.3V697.3H618.3ZM618.3 704.5H624.3V719.8H618.3ZM618.3 787.0H624.3V794.8H618.3ZM618.3 802.0H624.3V854.8H618.3ZM624.0 689.5H630.1V712.3H624.0ZM624.0 727.0H630.1V734.8H624.0ZM624.0 757.0H630.1V764.8H624.0ZM629.8 569.5H635.9V577.3H629.8ZM629.8 644.5H635.9V712.3H629.8ZM629.8 719.5H635.9V727.3H629.8ZM629.8 764.5H635.9V832.3H629.8ZM635.6 667.0H641.7V689.8H635.6ZM641.4 547.0H647.4V562.3H641.4ZM641.4 577.0H647.4V697.3H641.4ZM641.4 757.0H647.4V817.3H641.4ZM647.1 817.0H653.2V824.8H647.1ZM670.2 622.0H676.3V652.3H670.2ZM670.2 727.0H676.3V764.8H670.2ZM670.2 772.0H676.3V779.8H670.2ZM676.0 584.5H682.1V607.3H676.0ZM676.0 674.5H682.1V719.8H676.0ZM693.4 659.5H699.4V682.3H693.4ZM693.4 689.5H699.4V712.3H693.4ZM693.4 734.5H699.4V749.8H693.4ZM693.4 757.0H699.4V764.8H693.4ZM693.4 772.0H699.4V779.8H693.4ZM699.1 532.0H705.2V547.3H699.1ZM699.1 584.5H705.2V607.3H699.1ZM699.1 614.5H705.2V637.3H699.1ZM699.1 689.5H705.2V697.3H699.1ZM699.1 704.5H705.2V712.3H699.1ZM699.1 727.0H705.2V734.8H699.1ZM699.1 749.5H705.2V832.3H699.1ZM699.1 839.5H705.2V869.8H699.1ZM704.9 652.0H711.0V659.8H704.9ZM704.9 749.5H711.0V764.8H704.9ZM704.9 779.5H711.0V802.3H704.9ZM704.9 862.0H711.0V869.8H704.9ZM710.7 674.5H716.8V682.3H710.7ZM710.7 689.5H716.8V697.3H710.7ZM716.5 532.0H722.5V547.3H716.5ZM733.8 532.0H739.8V539.8H733.8ZM733.8 547.0H739.8V577.3H733.8ZM733.8 749.5H739.8V772.3H733.8ZM733.8 779.5H739.8V787.3H733.8ZM733.8 839.5H739.8V847.3H733.8ZM762.6 637.0H768.7V652.3H762.6ZM768.4 539.5H774.5V547.3H768.4ZM768.4 577.0H774.5V719.8H768.4ZM774.2 532.0H780.3V689.8H774.2ZM774.2 697.0H780.3V719.8H774.2ZM774.2 772.0H780.3V779.8H774.2ZM780.0 734.5H786.0V742.3H780.0ZM785.8 539.5H791.8V599.8H785.8ZM785.8 704.5H791.8V727.3H785.8ZM785.8 809.5H791.8V817.3H785.8ZM785.8 824.5H791.8V854.8H785.8ZM791.5 539.5H797.6V547.3H791.5ZM791.5 569.5H797.6V577.3H791.5ZM791.5 584.5H797.6V599.8H791.5ZM791.5 674.5H797.6V727.3H791.5ZM803.1 539.5H809.1V592.3H803.1ZM808.9 539.5H814.9V547.3H808.9ZM808.9 554.5H814.9V562.3H808.9ZM814.6 562.0H820.7V569.8H814.6ZM820.4 547.0H826.5V554.8H820.4ZM820.4 569.5H826.5V599.8H820.4ZM837.7 539.5H843.8V622.3H837.7ZM837.7 697.0H843.8V757.3H837.7ZM837.7 824.5H843.8V854.8H837.7ZM843.5 532.0H849.6V539.8H843.5ZM843.5 614.5H849.6V719.8H843.5ZM843.5 734.5H849.6V757.3H843.5ZM843.5 764.5H849.6V869.8H843.5ZM849.3 629.5H855.3V637.3H849.3ZM849.3 644.5H855.3V667.3H849.3ZM849.3 757.0H855.3V764.8H849.3ZM849.3 779.5H855.3V862.3H849.3ZM855.0 539.5H861.1V592.3H855.0ZM855.0 764.5H861.1V817.3H855.0ZM860.8 547.0H866.9V599.8H860.8ZM860.8 719.5H866.9V727.3H860.8ZM860.8 734.5H866.9V742.3H860.8ZM860.8 749.5H866.9V757.3H860.8ZM866.6 532.0H872.7V577.3H866.6ZM866.6 824.5H872.7V847.3H866.6ZM872.4 532.0H878.5V562.3H872.4ZM872.4 569.5H878.5V599.8H872.4ZM872.4 727.0H878.5V757.3H872.4ZM872.4 832.0H878.5V847.3H872.4ZM889.7 539.5H895.8V629.8H889.7ZM889.7 764.5H895.8V772.3H889.7ZM895.5 539.5H901.5V547.3H895.5ZM895.5 554.5H901.5V599.8H895.5ZM901.2 539.5H907.3V554.8H901.2ZM901.2 562.0H907.3V569.8H901.2ZM901.2 622.0H907.3V629.8H901.2ZM901.2 749.5H907.3V757.3H901.2ZM901.2 787.0H907.3V794.8H901.2ZM907.0 539.5H913.1V599.8H907.0ZM912.8 539.5H918.9V577.3H912.8ZM912.8 622.0H918.9V667.3H912.8ZM912.8 779.5H918.9V787.3H912.8ZM912.8 802.0H918.9V809.8H912.8ZM918.6 539.5H924.6V547.3H918.6ZM924.4 547.0H930.4V599.8H924.4ZM924.4 712.0H930.4V727.3H924.4ZM924.4 734.5H930.4V742.3H924.4ZM947.5 547.0H953.5V562.3H947.5ZM947.5 569.5H953.5V599.8H947.5ZM959.0 532.0H965.1V584.8H959.0ZM959.0 794.5H965.1V802.3H959.0ZM964.8 532.0H970.8V577.3H964.8ZM964.8 584.5H970.8V644.8H964.8ZM964.8 674.5H970.8V682.3H964.8ZM964.8 749.5H970.8V869.8H964.8ZM970.5 532.0H976.6V547.3H970.5ZM970.5 584.5H976.6V607.3H970.5ZM970.5 667.0H976.6V674.8H970.5ZM970.5 839.5H976.6V862.3H970.5ZM976.3 532.0H982.4V667.3H976.3ZM976.3 719.5H982.4V734.8H976.3ZM976.3 817.0H982.4V832.3H976.3ZM982.1 622.0H988.2V629.8H982.1ZM982.1 637.0H988.2V787.3H982.1ZM982.1 809.5H988.2V862.3H982.1ZM987.9 532.0H994.0V539.8H987.9ZM987.9 652.0H994.0V689.8H987.9ZM987.9 719.5H994.0V869.8H987.9ZM993.7 532.0H999.7V539.8H993.7ZM993.7 629.5H999.7V652.3H993.7ZM993.7 757.0H999.7V824.8H993.7ZM999.4 652.0H1005.5V667.3H999.4ZM999.4 674.5H1005.5V682.3H999.4ZM999.4 697.0H1005.5V727.3H999.4ZM999.4 794.5H1005.5V802.3H999.4ZM1005.2 622.0H1011.3V629.8H1005.2ZM1005.2 854.5H1011.3V869.8H1005.2ZM1011.0 577.0H1017.0V584.8H1011.0ZM1011.0 614.5H1017.0V622.3H1011.0ZM1011.0 727.0H1017.0V742.3H1011.0ZM1016.8 562.0H1022.8V644.8H1016.8ZM1016.8 674.5H1022.8V712.3H1016.8ZM1016.8 719.5H1022.8V809.8H1016.8ZM1022.5 532.0H1028.6V539.8H1022.5ZM1022.5 562.0H1028.6V569.8H1022.5ZM1022.5 607.0H1028.6V614.8H1022.5ZM1022.5 622.0H1028.6V727.3H1022.5ZM1022.5 779.5H1028.6V817.3H1022.5ZM1034.1 607.0H1040.1V622.3H1034.1ZM1034.1 629.5H1040.1V644.8H1034.1ZM1034.1 652.0H1040.1V659.8H1034.1ZM1039.8 629.5H1045.9V652.3H1039.8ZM1039.8 697.0H1045.9V712.3H1039.8ZM1039.8 719.5H1045.9V727.3H1039.8ZM1045.6 637.0H1051.7V659.8H1045.6ZM1045.6 667.0H1051.7V674.8H1045.6ZM1063.0 787.0H1069.0V794.8H1063.0ZM1063.0 809.5H1069.0V824.8H1063.0ZM1063.0 832.0H1069.0V839.8H1063.0ZM1063.0 854.5H1069.0V862.3H1063.0ZM1068.7 644.5H1074.8V652.3H1068.7ZM1068.7 667.0H1074.8V742.3H1068.7ZM1068.7 802.0H1074.8V809.8H1068.7ZM1068.7 817.0H1074.8V862.3H1068.7ZM1074.5 764.5H1080.6V779.8H1074.5ZM1074.5 862.0H1080.6V869.8H1074.5Z" fill="#d4dacd"/>
<path d="M618.3 697.0H624.3V704.8H618.3ZM618.3 719.5H624.3V787.3H618.3ZM618.3 794.5H624.3V802.3H618.3ZM624.0 712.0H630.1V727.3H624.0ZM624.0 734.5H630.1V757.3H624.0ZM624.0 764.5H630.1V854.8H624.0ZM843.5 539.5H849.6V614.8H843.5ZM843.5 719.5H849.6V734.8H843.5ZM843.5 757.0H849.6V764.8H843.5ZM987.9 562.0H994.0V569.8H987.9ZM987.9 577.0H994.0V652.3H987.9ZM993.7 562.0H999.7V629.8H993.7ZM999.4 562.0H1005.5V652.3H999.4ZM1005.2 562.0H1011.3V622.3H1005.2ZM1005.2 629.5H1011.3V652.3H1005.2ZM1051.4 554.5H1057.5V562.3H1051.4ZM1057.2 554.5H1063.2V562.3H1057.2Z" fill="#d3dec5"/>
<path d="M987.9 539.5H994.0V562.3H987.9ZM993.7 539.5H999.7V562.3H993.7ZM999.4 539.5H1005.5V554.8H999.4ZM1011.0 547.0H1017.0V562.3H1011.0ZM1016.8 554.5H1022.8V562.3H1016.8ZM1022.5 539.5H1028.6V562.3H1022.5Z" fill="#d2e5b6"/>
<path d="M987.9 569.5H994.0V577.3H987.9ZM999.4 554.5H1005.5V562.3H999.4ZM1005.2 539.5H1011.3V562.3H1005.2ZM1011.0 539.5H1017.0V547.3H1011.0ZM1016.8 539.5H1022.8V554.8H1016.8ZM1028.3 539.5H1034.4V562.3H1028.3ZM1034.1 539.5H1040.1V562.3H1034.1ZM1051.4 539.5H1057.5V554.8H1051.4ZM1057.2 539.5H1063.2V554.8H1057.2Z" fill="#d2e1bd"/>
<path d="M1063.0 539.5H1069.0V637.3H1063.0ZM1068.7 539.5H1074.8V637.3H1068.7ZM1074.5 539.5H1080.6V637.3H1074.5Z" fill="#d0e8b0"/>
</g>
</g>
<g clip-path="url(#c1)">
<path d="M142.1 89.2L143.1 97.5L144.6 110.0L145.8 122.5L147.3 132.9L151.5 140.2L155.6 148.5L159.8 154.8L162.9 151.7L165.4 146.5L168.1 157.9L171.2 168.3L173.3 157.9L173.8 143.3L174.0 122.5L175.0 110.0L179.6 103.8L183.8 106.9L186.9 118.3L191.0 126.7L193.1 143.3L194.2 157.9L197.3 149.6L202.5 141.2L206.7 126.7L210.8 107.9L214.0 97.5" fill="none" stroke="#000" stroke-width="1.15" stroke-dasharray="1.15 2.0" stroke-linejoin="round"/>
<path d="M233.8 96.5L236.9 105.8L241.0 118.3L245.2 132.9L248.3 142.3L252.5 145.0L255.6 137.1L258.8 122.5L260.4 107.9L260.8 93.3L261.2 81.9" fill="none" stroke="#000" stroke-width="1.15" stroke-dasharray="1.15 2.0" stroke-linejoin="round"/>
<path d="M291.7 87.1L295.2 88.1L295.2 98.5L291.7 99.6L291.0 93.3Z" fill="none" stroke="#000" stroke-width="1.15" stroke-dasharray="1.15 2.0" stroke-linejoin="round"/>
<path d="M292.1 108.3L295.2 112.1L296.2 122.5L295.2 130.8L292.5 135.0L291.7 122.5L291.7 112.1Z" fill="none" stroke="#000" stroke-width="1.15" stroke-dasharray="1.15 2.0" stroke-linejoin="round"/>
<path d="M159.8 200.6L155.6 203.8L152.5 210.0L152.1 218.3L154.6 223.5L157.1 214.2L158.8 205.8Z" fill="none" stroke="#000" stroke-width="1.15" stroke-dasharray="1.15 2.0" stroke-linejoin="round"/>
<path d="M170.2 195.4L171.2 203.8" fill="none" stroke="#000" stroke-width="1.15" stroke-dasharray="1.15 2.0" stroke-linejoin="round"/>
<path d="M158.3 225.6L160.8 226.7" fill="none" stroke="#000" stroke-width="1.15" stroke-dasharray="1.15 2.0" stroke-linejoin="round"/>
<path d="M269.6 123.5L268.1 128.8L267.5 139.2L264.0 146.5L263.3 160.0L262.5 176.7L262.9 187.1L264.0 199.6L266.7 193.3L265.0 187.1L271.2 182.9L273.8 173.5L273.3 160.0L272.9 147.5L271.7 139.2L271.7 126.7Z" fill="none" stroke="#000" stroke-width="1.15" stroke-linejoin="round"/>
<path d="M280.0 142.3L277.1 149.6L277.5 157.9L280.0 168.8L282.7 157.9L283.8 149.6Z" fill="none" stroke="#000" stroke-width="1.15" stroke-linejoin="round"/>
<path d="M246.7 72.9L249.4 75.0L252.5 74.2" fill="none" stroke="#000" stroke-width="1.15" stroke-linejoin="round"/>
<path d="M107.7 112.1L107.7 119.4" fill="none" stroke="#000" stroke-width="1.15" stroke-linejoin="round"/>
<path d="M107.7 206.9L106.7 209.0L107.7 211.7L108.8 209.0Z" fill="none" stroke="#000" stroke-width="1.15" stroke-linejoin="round"/>
<path d="M269.6 216.2L269.6 220.4" fill="none" stroke="#000" stroke-width="1.15" stroke-linejoin="round"/>
<path d="M330.4 74.7L330.8 81.7L333.4 87.1L337.3 80.6L339.5 74.7" fill="none" stroke="#000" stroke-width="1.15" stroke-linejoin="round"/>
<path d="M407.1 74.7L408.4 82.8L412.1 88.2L413.6 92.5L416.4 88.2L415.3 81.7L420.8 78.4L426.2 75.2" fill="none" stroke="#000" stroke-width="1.15" stroke-linejoin="round"/>
<path d="M356.4 101.6L354.2 108.8L353.6 112.0L356.4 113.1L357.9 102.3Z" fill="none" stroke="#000" stroke-width="1.15" stroke-linejoin="round"/>
<path d="M488.6 78.4L489.0 81.7L490.7 82.3" fill="none" stroke="#000" stroke-width="1.15" stroke-linejoin="round"/>
<path d="M547.5 81.7L544.3 88.2L545.4 99.0L547.1 105.5L545.4 116.3L546.4 125.0L543.2 131.5L541.5 135.8L543.2 153.2L544.3 172.7L545.4 190.0L546.4 209.5L547.5 212.8L552.9 214.9L558.4 217.1L564.4 212.8" fill="none" stroke="#000" stroke-width="1.15" stroke-linejoin="round"/>
<path d="M546.4 127.2L551.9 125.0L558.4 123.3L562.7 125.0L564.4 130.4" fill="none" stroke="#000" stroke-width="1.15" stroke-linejoin="round"/>
<path d="M546.4 127.2L551.9 133.7L552.9 138.0L550.8 151.0L550.1 168.3L552.9 173.8L558.4 178.1L560.5 170.5L564.4 165.1" fill="none" stroke="#000" stroke-width="1.15" stroke-linejoin="round"/>
<circle cx="557.9" cy="203.0" r="0.9" fill="#000"/>
<circle cx="536.7" cy="73.4" r="0.9" fill="#000"/>
<path d="M505.9 89.3L507.6 87.7" fill="none" stroke="#000" stroke-width="1.15" stroke-linejoin="round"/>
<path d="M352.5 75.6L348.2 83.8L343.8 96.8L341.7 109.8L339.1 125.0L336.3 140.2L334.7 153.2L334.1 168.3L335.2 181.3L338.4 194.3L339.9 211.7L339.5 230.1" fill="none" stroke="#000" stroke-width="1.15" stroke-dasharray="1.15 2.0" stroke-linejoin="round"/>
<path d="M304.8 81.7L310.2 84.3L313.5 92.5L315.7 105.5L320.0 110.9L323.3 125.0L326.5 140.2L329.1 153.2L326.5 164.0L323.3 181.3L321.1 194.3L320.0 207.3L320.0 230.1" fill="none" stroke="#000" stroke-width="1.15" stroke-dasharray="1.15 2.0" stroke-linejoin="round"/>
<path d="M364.4 73.4L365.5 81.7L366.6 90.3L368.1 93.6L370.9 86.0L375.3 82.8L379.6 83.8L382.8 88.2L383.9 103.3L385.0 120.7L385.4 138.0L386.1 155.3L387.2 172.7L386.1 190.0L384.6 198.7L385.0 211.7L381.8 224.7L380.7 230.1" fill="none" stroke="#000" stroke-width="1.15" stroke-dasharray="1.15 2.0" stroke-linejoin="round"/>
<path d="M467.3 75.2L468.4 83.8L470.6 88.2L469.5 99.0L468.4 109.8L469.5 122.8L471.7 127.2L476.0 129.3L478.2 135.8L477.1 143.4L474.9 139.1L469.5 140.2L466.9 146.7L465.6 157.5L467.3 166.2L470.6 171.6L474.9 171.6L481.4 166.2L485.8 168.3L487.9 172.7L485.8 181.3L484.7 190.0L486.8 194.3L490.1 200.8L491.2 209.5L492.3 220.3L491.2 230.1" fill="none" stroke="#000" stroke-width="1.15" stroke-dasharray="1.15 2.0" stroke-linejoin="round"/>
<path d="M473.8 75.2L474.3 86.0L475.6 96.8L478.2 101.2L480.3 92.5L479.9 81.7L480.8 74.7" fill="none" stroke="#000" stroke-width="1.15" stroke-dasharray="1.15 2.0" stroke-linejoin="round"/>
<path d="M524.8 87.7L519.3 92.5L516.1 101.2L513.9 114.2L510.7 125.0L508.9 135.8L510.2 148.8L513.9 157.5L518.3 168.3L522.6 179.2L525.9 190.0L528.0 203.0L529.1 216.0L530.2 222.5" fill="none" stroke="#000" stroke-width="1.15" stroke-dasharray="1.15 2.0" stroke-linejoin="round"/>
<path d="M494.4 109.8L495.9 113.1" fill="none" stroke="#000" stroke-width="1.15" stroke-dasharray="1.15 2.0" stroke-linejoin="round"/>
<path d="M494.4 129.3L496.6 135.8L497.2 142.3L494.4 149.9L493.3 140.2Z" fill="none" stroke="#000" stroke-width="1.15" stroke-dasharray="1.15 2.0" stroke-linejoin="round"/>
<path d="M437.0 174.8L438.1 180.3" fill="none" stroke="#000" stroke-width="1.15" stroke-dasharray="1.15 2.0" stroke-linejoin="round"/>
<path d="M414.3 196.9L417.1 199.8L415.3 203.4L412.1 203.0L411.0 199.8Z" fill="none" stroke="#000" stroke-width="1.15" stroke-dasharray="1.15 2.0" stroke-linejoin="round"/>
<path d="M471.7 198.7L469.5 203.0L470.6 211.7L473.8 220.3L478.2 226.8L480.3 230.1" fill="none" stroke="#000" stroke-width="1.15" stroke-dasharray="1.15 2.0" stroke-linejoin="round"/>
<path d="M479.3 198.7L484.7 200.8L489.0 194.3" fill="none" stroke="#000" stroke-width="1.15" stroke-dasharray="1.15 2.0" stroke-linejoin="round"/>
<path d="M487.9 209.5L491.2 216.0L490.1 224.7L486.8 218.2Z" fill="none" stroke="#000" stroke-width="1.15" stroke-dasharray="1.15 2.0" stroke-linejoin="round"/>
<path d="M533.4 213.8L536.7 222.5" fill="none" stroke="#000" stroke-width="1.15" stroke-dasharray="1.15 2.0" stroke-linejoin="round"/>
<path d="M269.6 230.2L268.1 237.5L267.5 247.9L268.1 256.2L269.6 259.4L271.2 256.2L271.9 245.8L270.8 235.4Z" fill="none" stroke="#000" stroke-width="1.15" stroke-linejoin="round"/>
<path d="M263.3 287.5L264.0 295.8L262.5 306.2L262.3 316.7L263.5 320.4L265.6 316.7L266.7 308.3L265.6 300.0L264.6 291.7Z" fill="none" stroke="#000" stroke-width="1.15" stroke-linejoin="round"/>
<path d="M107.7 285.4L105.6 287.9L107.7 291.2L109.8 287.9Z" fill="none" stroke="#000" stroke-width="1.15" stroke-linejoin="round"/>
<path d="M101.5 278.1L102.9 279.6" fill="none" stroke="#000" stroke-width="1.15" stroke-linejoin="round"/>
<path d="M159.4 226.0L160.8 228.1" fill="none" stroke="#000" stroke-width="1.15" stroke-dasharray="1.15 2.0" stroke-linejoin="round"/>
<path d="M159.8 239.6L160.4 244.8" fill="none" stroke="#000" stroke-width="1.15" stroke-dasharray="1.15 2.0" stroke-linejoin="round"/>
<path d="M331.2 369.2L336.2 369.2" fill="none" stroke="#000" stroke-width="1.15" stroke-dasharray="1.15 2.0" stroke-linejoin="round"/>
<path d="M320.0 225.0L322.2 229.3L326.5 238.0L330.8 246.7L333.4 264.0L336.3 253.2L339.5 240.2L340.6 225.0" fill="none" stroke="#000" stroke-width="1.15" stroke-dasharray="1.15 2.0" stroke-linejoin="round"/>
<path d="M380.7 225.0L382.8 235.8L383.9 246.7L385.0 261.8L386.1 274.8L389.3 281.3L392.6 279.2L393.7 268.3L394.1 257.5L398.0 252.1L404.5 246.7L411.0 242.3L415.3 240.2L417.5 246.7L415.3 251.0L419.7 248.8L425.1 241.3L429.4 242.3L432.7 248.8L437.0 255.3L442.4 258.6L445.7 253.2L444.6 246.7L447.8 235.8L450.0 242.3L451.1 251.0L454.3 257.5L455.4 268.3L456.5 281.3L457.6 294.3L453.3 307.3L455.4 320.3L456.5 334.4L460.8 334.4L461.9 320.3L458.7 307.3L461.9 294.3L462.6 290.0L463.0 272.7L463.4 257.5L464.7 244.5L467.3 233.7L471.7 229.3L474.9 233.7L478.2 234.8L480.3 228.3L481.4 225.0" fill="none" stroke="#000" stroke-width="1.15" stroke-dasharray="1.15 2.0" stroke-linejoin="round"/>
<path d="M538.9 225.0L539.9 233.7L537.8 246.7L536.7 259.7L535.6 274.8L534.5 285.7L535.6 298.7L536.7 316.0L537.1 333.3L537.8 350.7L538.4 360.4" fill="none" stroke="#000" stroke-width="1.15" stroke-dasharray="1.15 2.0" stroke-linejoin="round"/>
<path d="M529.1 317.1L530.2 329.0" fill="none" stroke="#000" stroke-width="1.15" stroke-dasharray="1.15 2.0" stroke-linejoin="round"/>
<path d="M564.4 290.0L564.9 306.3" fill="none" stroke="#000" stroke-width="1.15" stroke-dasharray="1.15 2.0" stroke-linejoin="round"/>
<circle cx="489.0" cy="271.6" r="0.9" fill="#000"/>
<circle cx="383.9" cy="295.4" r="0.9" fill="#000"/>
<circle cx="529.8" cy="293.9" r="0.9" fill="#000"/>
<circle cx="453.3" cy="227.2" r="0.9" fill="#000"/>
<path d="M332.6 370.6L335.6 370.6" fill="none" stroke="#000" stroke-width="1.15" stroke-dasharray="1.15 2.0" stroke-linejoin="round"/>
</g>
<g clip-path="url(#c3)">
<path d="M159.8 577.9L165.0 579.6L173.3 579.6L179.6 581.7L184.8 585.2L187.9 591.5L191.0 598.8L192.1 609.2L192.5 621.7L193.8 638.3L196.2 630.0L199.4 621.7L203.5 611.2L206.7 598.8L209.8 584.2L211.2 572.7L217.1 571.2L225.4 571.7L233.8 572.7L235.8 582.1L237.9 592.5L241.0 600.8L243.1 611.2L243.8 621.7L244.6 632.1L249.4 633.1L252.5 629.0L254.6 621.7L257.7 613.3L259.2 600.8L260.8 590.4L264.0 582.1L267.1 576.9L267.1 567.5L265.0 555.0L261.2 547.7" fill="none" stroke="#000" stroke-width="1.15" stroke-dasharray="1.15 2.0" stroke-linejoin="round"/>
<path d="M279.6 547.7L278.5 557.1L279.2 567.5L280.6 581.0L282.7 571.7L283.3 561.2L281.2 550.8Z" fill="none" stroke="#000" stroke-width="1.15" stroke-dasharray="1.15 2.0" stroke-linejoin="round"/>
<path d="M285.8 549.8L290.0 557.1L292.1 571.7L295.2 561.2L298.3 550.8L304.6 547.7" fill="none" stroke="#000" stroke-width="1.15" stroke-dasharray="1.15 2.0" stroke-linejoin="round"/>
<path d="M292.1 585.2L292.5 600.8" fill="none" stroke="#000" stroke-width="1.15" stroke-dasharray="1.15 2.0" stroke-linejoin="round"/>
<path d="M200.0 657.1L198.3 665.4L197.9 675.8L198.3 684.2L200.4 688.3L202.5 684.2L202.5 673.8L201.5 663.3Z" fill="none" stroke="#000" stroke-width="1.15" stroke-dasharray="1.15 2.0" stroke-linejoin="round"/>
<path d="M256.7 661.2L257.7 671.7" fill="none" stroke="#000" stroke-width="1.15" stroke-dasharray="1.15 2.0" stroke-linejoin="round"/>
<circle cx="262.9" cy="667.5" r="0.9" fill="#000"/>
<circle cx="246.7" cy="645.0" r="0.9" fill="#000"/>
<path d="M326.5 685.2L325.4 692.5L323.3 699.8" fill="none" stroke="#000" stroke-width="1.15" stroke-dasharray="1.15 2.0" stroke-linejoin="round"/>
<path d="M331.7 690.4L333.8 699.8" fill="none" stroke="#000" stroke-width="1.15" stroke-dasharray="1.15 2.0" stroke-linejoin="round"/>
<path d="M269.6 624.2L267.1 630.0L264.0 637.3L263.3 646.7L263.5 656.0L267.1 656.0L270.2 654.0L271.2 642.5L270.4 632.1Z" fill="none" stroke="#000" stroke-width="1.15" stroke-linejoin="round"/>
<path d="M327.6 546.3L324.3 553.8L323.3 564.7L324.3 577.7L327.6 588.5L330.8 597.2L333.4 604.8L336.3 597.2L337.8 586.3L336.3 575.5L338.4 564.7L340.6 553.8L342.8 546.3" fill="none" stroke="#000" stroke-width="1.15" stroke-dasharray="1.15 2.0" stroke-linejoin="round"/>
<path d="M335.2 575.5L333.0 584.2L335.2 592.8" fill="none" stroke="#000" stroke-width="1.15" stroke-dasharray="1.15 2.0" stroke-linejoin="round"/>
<path d="M393.7 550.6L394.8 562.5L389.3 564.7L386.1 570.1L387.2 579.8L389.3 590.7L389.8 605.8L387.6 616.7L386.7 629.7L385.0 642.7L383.9 655.7L382.8 662.2L377.4 667.6L380.7 675.2L381.8 686.0L379.6 694.7L378.5 700.1" fill="none" stroke="#000" stroke-width="1.15" stroke-dasharray="1.15 2.0" stroke-linejoin="round"/>
<path d="M394.1 575.9L396.3 577.2" fill="none" stroke="#000" stroke-width="1.15" stroke-dasharray="1.15 2.0" stroke-linejoin="round"/>
<path d="M464.1 554.9L471.7 556.0L478.2 557.1L482.1 559.3L482.1 573.3L480.3 586.3L479.9 601.5L479.9 616.7L480.3 629.7L484.7 634.0L490.1 639.4L494.4 634.0L495.1 647.0L495.5 660.0L495.1 673.0L494.4 686.0L493.3 700.1" fill="none" stroke="#000" stroke-width="1.15" stroke-dasharray="1.15 2.0" stroke-linejoin="round"/>
<path d="M528.0 546.3L529.1 558.2L529.8 571.2L525.9 569.0L519.3 569.0L518.9 577.7L516.1 588.5L512.8 601.5L511.1 612.3L512.8 623.2L515.0 634.0L513.9 647.0L512.8 660.0L512.4 673.0L515.0 681.7L517.2 692.5L519.3 700.1" fill="none" stroke="#000" stroke-width="1.15" stroke-dasharray="1.15 2.0" stroke-linejoin="round"/>
<path d="M470.6 629.7L471.7 637.3" fill="none" stroke="#000" stroke-width="1.15" stroke-dasharray="1.15 2.0" stroke-linejoin="round"/>
<path d="M528.5 588.9L531.3 588.9L531.3 592.8L528.5 592.8Z" fill="none" stroke="#000" stroke-width="1.15" stroke-dasharray="1.15 2.0" stroke-linejoin="round"/>
<circle cx="495.1" cy="615.6" r="0.9" fill="#000"/>
<circle cx="448.5" cy="584.6" r="0.9" fill="#000"/>
<path d="M417.1 561.6L420.5 561.6L418.8 562.9" fill="none" stroke="#000" stroke-width="1.15" stroke-linejoin="round"/>
<path d="M324.3 686.0L328.7 694.7L331.9 690.3L335.2 686.0L339.5 692.5" fill="none" stroke="#000" stroke-width="1.15" stroke-dasharray="1.15 2.0" stroke-linejoin="round"/>
<path d="M455.4 561.4L460.8 561.4L463.0 571.2L461.9 584.2L460.4 595.0L456.9 590.7L455.4 577.7L454.3 569.0Z" fill="none" stroke="#000" stroke-width="1.15" stroke-linejoin="round"/>
<path d="M487.9 553.8L493.3 557.7L499.8 556.4L506.3 554.3L511.8 550.6L516.7 546.3" fill="none" stroke="#000" stroke-width="1.15" stroke-linejoin="round"/>
<path d="M533.4 546.3L536.7 549.9L545.4 551.2L548.6 556.0L549.3 569.0L549.7 582.0L548.6 590.7L553.6 598.9L547.5 605.8L543.8 612.3L545.4 618.8L548.6 623.2L546.4 629.7L549.7 636.2L551.9 647.0L550.8 660.0L551.4 673.0L552.9 686.0L555.1 700.1" fill="none" stroke="#000" stroke-width="1.15" stroke-linejoin="round"/>
<circle cx="159.8" cy="699.2" r="0.9" fill="#000"/>
<circle cx="321.2" cy="728.3" r="0.9" fill="#000"/>
<path d="M159.8 709.6L157.7 715.8L158.8 728.3L161.9 724.2L164.0 715.8L161.9 709.6Z" fill="none" stroke="#000" stroke-width="1.15" stroke-dasharray="1.15 2.0" stroke-linejoin="round"/>
<path d="M252.5 714.8L250.8 724.2L251.5 736.7L250.4 749.2L252.1 761.7L250.8 774.2L250.4 786.7L251.5 799.2L252.1 813.8L252.9 799.2L253.5 786.7L252.5 774.2L254.2 761.7L253.5 749.2L254.6 736.7L253.5 724.2Z" fill="none" stroke="#000" stroke-width="1.15" stroke-dasharray="1.15 2.0" stroke-linejoin="round"/>
<path d="M252.1 825.2L252.1 828.3" fill="none" stroke="#000" stroke-width="1.15" stroke-dasharray="1.15 2.0" stroke-linejoin="round"/>
<path d="M309.8 734.6L310.4 745.0L309.8 759.6" fill="none" stroke="#000" stroke-width="1.15" stroke-dasharray="1.15 2.0" stroke-linejoin="round"/>
<path d="M303.5 795.0L300.4 801.2L299.4 809.6L302.5 813.8L305.6 808.5L306.2 799.2Z" fill="none" stroke="#000" stroke-width="1.15" stroke-dasharray="1.15 2.0" stroke-linejoin="round"/>
<path d="M303.5 826.2L303.5 842.9" fill="none" stroke="#000" stroke-width="1.15" stroke-dasharray="1.15 2.0" stroke-linejoin="round"/>
<path d="M301.5 863.8L304.6 860.6L308.8 862.7L312.9 861.7L316.0 859.6" fill="none" stroke="#000" stroke-width="1.15" stroke-dasharray="1.15 2.0" stroke-linejoin="round"/>
<path d="M269.6 726.2L269.6 729.4" fill="none" stroke="#000" stroke-width="1.15" stroke-linejoin="round"/>
<path d="M320.0 714.5L326.5 715.6L329.1 723.2L329.8 738.3L330.8 755.7L331.9 768.7L330.4 781.7L329.8 794.7L328.7 807.7L327.6 820.7L328.7 831.5L326.5 842.3L324.3 851.0L325.4 859.7L333.0 860.8L340.6 858.6L342.8 846.7L343.4 833.7L343.8 820.7L341.7 812.0L339.1 799.0L337.3 786.0L337.8 773.0L339.5 760.0L341.2 747.0L341.7 734.0L342.1 718.8L341.7 703.7L340.6 697.2L333.0 698.3L328.7 696.1L322.2 699.3L317.8 708.0Z" fill="none" stroke="#000" stroke-width="1.15" stroke-dasharray="1.15 2.0" stroke-linejoin="round"/>
<path d="M378.5 698.3L381.8 708.0L383.9 721.0L385.0 734.0L385.0 747.0L387.2 753.5L391.5 757.8L395.8 754.6L397.6 764.3L399.7 777.3L401.3 790.3L401.9 803.3L400.2 812.0L396.9 818.5L399.1 829.3L401.3 838.0L405.6 846.7L411.0 851.0L416.4 855.3L415.3 861.8L413.2 865.1" fill="none" stroke="#000" stroke-width="1.15" stroke-dasharray="1.15 2.0" stroke-linejoin="round"/>
<path d="M385.0 760.0L384.6 768.7" fill="none" stroke="#000" stroke-width="1.15" stroke-dasharray="1.15 2.0" stroke-linejoin="round"/>
<path d="M395.8 735.1L396.9 744.8" fill="none" stroke="#000" stroke-width="1.15" stroke-dasharray="1.15 2.0" stroke-linejoin="round"/>
<circle cx="384.6" cy="782.1" r="0.9" fill="#000"/>
<circle cx="431.6" cy="835.8" r="0.9" fill="#000"/>
<path d="M493.3 696.1L491.2 708.0L486.8 721.0L490.1 729.7L491.2 742.7L486.8 753.5L488.6 764.3L491.2 773.0L490.1 786.0L487.9 799.0L488.6 812.0L485.8 820.7L486.8 833.7L487.9 844.5L483.6 851.0L482.5 859.7L481.4 865.1" fill="none" stroke="#000" stroke-width="1.15" stroke-dasharray="1.15 2.0" stroke-linejoin="round"/>
<path d="M482.5 771.9L482.9 775.2" fill="none" stroke="#000" stroke-width="1.15" stroke-dasharray="1.15 2.0" stroke-linejoin="round"/>
<path d="M516.1 695.0L520.4 703.7L523.7 714.5" fill="none" stroke="#000" stroke-width="1.15" stroke-dasharray="1.15 2.0" stroke-linejoin="round"/>
<path d="M536.7 701.5L533.4 708.0L531.3 715.6" fill="none" stroke="#000" stroke-width="1.15" stroke-dasharray="1.15 2.0" stroke-linejoin="round"/>
<path d="M537.8 708.0L536.7 721.0L531.3 729.7L526.9 742.7L524.8 755.7L523.7 766.5L528.0 777.3L524.8 790.3L525.9 803.3L524.8 816.3L528.0 825.0L533.4 833.7L537.8 844.5L539.9 856.4" fill="none" stroke="#000" stroke-width="1.15" stroke-dasharray="1.15 2.0" stroke-linejoin="round"/>
<path d="M552.9 695.0L553.6 712.3L554.5 729.7L555.1 747.0L555.8 764.3L556.6 781.7L557.9 799.0L558.4 816.3L557.3 835.8L558.4 856.4" fill="none" stroke="#000" stroke-width="1.15" stroke-linejoin="round"/>
<path d="M564.4 753.5L561.0 760.0L560.1 777.3L559.4 792.5L561.6 799.0L564.9 802.3" fill="none" stroke="#000" stroke-width="1.15" stroke-linejoin="round"/>
<path d="M563.8 835.8L560.5 844.5L558.4 856.4" fill="none" stroke="#000" stroke-width="1.15" stroke-linejoin="round"/>
<path d="M564.4 734.0L563.8 738.3" fill="none" stroke="#000" stroke-width="1.15" stroke-linejoin="round"/>
</g>
<g clip-path="url(#c4)">
<path d="M618.3 542.5L618.8 548.8" fill="none" stroke="#000" stroke-width="1.15" stroke-dasharray="1.15 2.0" stroke-linejoin="round"/>
<path d="M618.3 563.3L622.9 569.6L628.1 577.9L631.2 583.1L628.1 590.4L625.4 596.7L624.6 605.0L626.0 617.5L627.1 627.9L626.0 638.3L629.2 646.7L631.2 655.0L634.4 661.2L635.4 652.9L635.8 640.4L636.5 627.9L637.1 617.5L638.5 613.3L641.7 612.3L644.8 605.0L646.9 600.8L648.3 609.2L651.0 617.5L650.0 622.7L647.5 627.9L648.3 633.1L653.1 636.2L658.3 634.2L662.5 640.4L668.8 639.4L674.0 640.4L680.2 643.5L682.3 650.8L681.2 657.1" fill="none" stroke="#000" stroke-width="1.15" stroke-dasharray="1.15 2.0" stroke-linejoin="round"/>
<path d="M651.0 617.5L653.8 621.7L658.3 623.8L659.4 630.0L658.3 634.2" fill="none" stroke="#000" stroke-width="1.15" stroke-dasharray="1.15 2.0" stroke-linejoin="round"/>
<path d="M618.3 579.0L618.8 584.2" fill="none" stroke="#000" stroke-width="1.15" stroke-dasharray="1.15 2.0" stroke-linejoin="round"/>
<path d="M653.8 665.4L651.0 673.8L650.0 684.2L646.9 690.4L646.2 696.7L652.1 697.7L660.4 696.7L666.7 698.8L671.9 694.6L674.0 686.2L676.0 680.0L679.2 675.8L680.2 667.5L677.1 659.2L674.0 665.4L670.8 673.8L666.7 680.0L662.5 682.1L659.4 675.8L655.2 669.6Z" fill="none" stroke="#000" stroke-width="1.15" stroke-dasharray="1.15 2.0" stroke-linejoin="round"/>
<path d="M668.8 654.0L671.9 654.6" fill="none" stroke="#000" stroke-width="1.15" stroke-dasharray="1.15 2.0" stroke-linejoin="round"/>
<path d="M666.2 660.8L668.8 661.2" fill="none" stroke="#000" stroke-width="1.15" stroke-dasharray="1.15 2.0" stroke-linejoin="round"/>
<path d="M691.7 646.7L692.7 655.0L690.6 663.3L689.6 675.8L688.5 688.3L687.5 699.8" fill="none" stroke="#000" stroke-width="1.15" stroke-dasharray="1.15 2.0" stroke-linejoin="round"/>
<path d="M693.8 655.0L697.9 663.3L702.1 659.2L705.2 663.3L708.3 671.7L710.4 682.1L713.5 690.4L717.7 698.8" fill="none" stroke="#000" stroke-width="1.15" stroke-dasharray="1.15 2.0" stroke-linejoin="round"/>
<path d="M721.9 630.0L716.7 637.3L717.7 648.8L719.8 659.2L721.9 664.4L724.0 659.2L724.6 646.7L723.3 636.2Z" fill="none" stroke="#000" stroke-width="1.15" stroke-dasharray="1.15 2.0" stroke-linejoin="round"/>
<path d="M733.3 644.6L738.5 644.2" fill="none" stroke="#000" stroke-width="1.15" stroke-dasharray="1.15 2.0" stroke-linejoin="round"/>
<path d="M736.5 644.6L735.4 655.0L733.3 663.3L730.2 671.7L727.1 680.0L725.0 688.3L722.9 696.7L720.8 699.8" fill="none" stroke="#000" stroke-width="1.15" stroke-dasharray="1.15 2.0" stroke-linejoin="round"/>
<path d="M737.5 657.1L739.6 665.4L742.7 673.8L745.8 680.0L747.9 688.3L749.0 699.8" fill="none" stroke="#000" stroke-width="1.15" stroke-dasharray="1.15 2.0" stroke-linejoin="round"/>
<path d="M751.0 644.2L750.0 655.0L749.0 665.4L748.3 675.8L745.8 684.2L743.8 692.5L742.7 699.8" fill="none" stroke="#000" stroke-width="1.15" stroke-dasharray="1.15 2.0" stroke-linejoin="round"/>
<path d="M751.0 644.2L755.2 640.4L760.4 636.2L764.6 630.0L761.5 623.8L762.5 615.4L759.4 620.6L756.2 614.4L764.6 613.3L770.8 613.3L779.2 615.0L783.3 617.5L784.4 621.7L787.5 619.6L790.6 613.3L792.7 602.9L794.8 592.5L796.2 582.1L796.9 571.7L797.5 561.2L795.8 557.1L792.7 554.0L791.7 547.7L794.8 544.6L801.0 542.5L805.2 545.6L807.3 552.9L808.3 558.1L811.5 552.9L816.7 547.7L821.9 540.4L824.0 539.4L827.1 544.6L826.0 550.8L824.0 554.0" fill="none" stroke="#000" stroke-width="1.15" stroke-dasharray="1.15 2.0" stroke-linejoin="round"/>
<circle cx="790.0" cy="568.5" r="0.9" fill="#000"/>
<circle cx="809.0" cy="568.5" r="0.9" fill="#000"/>
<circle cx="809.0" cy="599.8" r="0.9" fill="#000"/>
<circle cx="721.9" cy="615.0" r="0.9" fill="#000"/>
<circle cx="676.0" cy="630.4" r="0.9" fill="#000"/>
<path d="M787.5 619.6L789.6 621.7L790.6 627.9L791.7 634.2" fill="none" stroke="#000" stroke-width="1.15" stroke-dasharray="1.15 2.0" stroke-linejoin="round"/>
<path d="M774.0 634.2L772.9 642.5" fill="none" stroke="#000" stroke-width="1.15" stroke-dasharray="1.15 2.0" stroke-linejoin="round"/>
<path d="M774.0 655.0L771.9 663.3L772.5 673.8L774.6 680.0L776.7 671.7L776.0 661.2Z" fill="none" stroke="#000" stroke-width="1.15" stroke-dasharray="1.15 2.0" stroke-linejoin="round"/>
<path d="M784.4 658.1L783.3 667.5L785.4 675.8L785.8 684.2L787.5 667.5L786.5 659.2Z" fill="none" stroke="#000" stroke-width="1.15" stroke-dasharray="1.15 2.0" stroke-linejoin="round"/>
<path d="M826.0 650.4L822.9 657.1L823.3 671.7L824.6 686.2L826.7 694.6L828.8 684.2L829.2 671.7L828.1 659.2Z" fill="none" stroke="#000" stroke-width="1.15" stroke-dasharray="1.15 2.0" stroke-linejoin="round"/>
<path d="M837.5 660.2L837.9 671.7L838.5 683.1" fill="none" stroke="#000" stroke-width="1.15" stroke-dasharray="1.15 2.0" stroke-linejoin="round"/>
<path d="M987.3 544.1L984.1 548.4L985.6 553.8L988.4 558.2L989.9 551.7L989.5 546.3Z" fill="none" stroke="#000" stroke-width="1.15" stroke-linejoin="round"/>
<path d="M1000.3 539.8L997.7 546.3L997.1 553.8L999.3 560.3L1000.3 565.8L1004.7 565.8L1006.4 560.3L1011.2 556.4L1019.8 555.6L1026.3 552.8L1032.8 552.8L1038.3 549.5L1040.4 545.2L1036.1 543.4L1030.7 545.6L1024.2 541.9L1017.7 539.8" fill="none" stroke="#000" stroke-width="1.15" stroke-linejoin="round"/>
<path d="M998.2 570.1L1004.7 569.7L1006.4 575.5L1005.8 586.3L1004.7 592.8L999.9 592.4L998.2 584.2L997.7 575.5Z" fill="none" stroke="#000" stroke-width="1.15" stroke-linejoin="round"/>
<path d="M1061.0 539.8L1055.6 545.2L1058.9 549.5L1063.2 553.4L1069.7 550.6L1076.2 549.1L1079.9 548.4" fill="none" stroke="#000" stroke-width="1.15" stroke-linejoin="round"/>
<path d="M1069.7 539.8L1074.0 543.4L1079.9 545.2" fill="none" stroke="#000" stroke-width="1.15" stroke-linejoin="round"/>
<path d="M1069.7 569.0L1074.0 568.6L1074.5 571.2L1070.1 571.2Z" fill="none" stroke="#000" stroke-width="1.15" stroke-linejoin="round"/>
<path d="M1079.9 579.8L1075.1 578.8L1070.1 582.0L1067.5 585.3L1070.8 592.8L1068.0 599.3L1071.9 610.2L1073.6 621.0L1075.1 629.7L1079.9 631.4" fill="none" stroke="#000" stroke-width="1.15" stroke-linejoin="round"/>
<path d="M848.7 551.7L847.6 556.0L849.8 559.3L850.8 554.9Z" fill="none" stroke="#000" stroke-width="1.15" stroke-dasharray="1.15 2.0" stroke-linejoin="round"/>
<path d="M843.3 562.5L842.6 573.3L843.3 580.9" fill="none" stroke="#000" stroke-width="1.15" stroke-dasharray="1.15 2.0" stroke-linejoin="round"/>
<path d="M850.8 539.8L855.2 544.1" fill="none" stroke="#000" stroke-width="1.15" stroke-dasharray="1.15 2.0" stroke-linejoin="round"/>
<path d="M876.8 539.8L883.3 545.2L889.8 541.9" fill="none" stroke="#000" stroke-width="1.15" stroke-dasharray="1.15 2.0" stroke-linejoin="round"/>
<circle cx="883.3" cy="561.4" r="0.9" fill="#000"/>
<circle cx="877.9" cy="637.7" r="0.9" fill="#000"/>
<circle cx="929.9" cy="675.6" r="0.9" fill="#000"/>
<circle cx="999.3" cy="667.6" r="0.9" fill="#000"/>
<circle cx="971.1" cy="697.9" r="0.9" fill="#000"/>
<circle cx="958.1" cy="567.9" r="0.9" fill="#000"/>
<path d="M901.8 559.3L899.6 569.0L898.5 576.6L901.8 579.8L905.0 575.5L906.1 566.8L903.9 560.3Z" fill="none" stroke="#000" stroke-width="1.15" stroke-dasharray="1.15 2.0" stroke-linejoin="round"/>
<path d="M895.3 587.4L895.9 595.0" fill="none" stroke="#000" stroke-width="1.15" stroke-dasharray="1.15 2.0" stroke-linejoin="round"/>
<path d="M907.2 587.4L903.9 592.8L904.6 601.5L908.3 606.9L912.6 601.5L913.7 592.8L911.5 588.5Z" fill="none" stroke="#000" stroke-width="1.15" stroke-dasharray="1.15 2.0" stroke-linejoin="round"/>
<path d="M907.2 606.9L902.8 614.5L897.4 621.0L893.1 629.7L889.8 638.3L887.7 649.2L886.6 660.0L884.4 670.8L882.3 681.7L880.1 692.5L878.6 697.9" fill="none" stroke="#000" stroke-width="1.15" stroke-dasharray="1.15 2.0" stroke-linejoin="round"/>
<path d="M911.5 608.0L912.6 621.0L915.8 612.3L921.3 608.0L923.4 618.8" fill="none" stroke="#000" stroke-width="1.15" stroke-dasharray="1.15 2.0" stroke-linejoin="round"/>
<path d="M915.8 546.3L912.6 550.6L918.0 556.0L920.2 562.5L925.6 566.8L927.8 573.3L928.8 584.2L929.3 592.8L931.0 599.3L935.3 595.0L939.7 591.8L946.2 592.8" fill="none" stroke="#000" stroke-width="1.15" stroke-dasharray="1.15 2.0" stroke-linejoin="round"/>
<path d="M922.3 545.2L921.9 553.8L919.1 559.3" fill="none" stroke="#000" stroke-width="1.15" stroke-dasharray="1.15 2.0" stroke-linejoin="round"/>
<path d="M951.6 558.2L952.7 553.8L949.4 550.6L944.0 548.4L938.6 547.3L933.2 549.5L932.1 556.0L935.3 562.5L936.4 571.2L939.7 576.6L946.2 580.9L950.5 584.2L952.7 590.7L952.2 599.3L950.5 605.8L951.6 612.3L957.0 618.8L963.5 625.3L967.8 631.8L970.0 625.3L972.2 618.8L975.4 612.3L976.5 605.8L978.7 616.7L980.8 627.5L981.9 638.3L985.2 644.8L988.4 651.3L991.7 644.8L998.2 641.6L1004.7 641.6L1007.9 636.2L1009.0 625.3L1009.4 614.5L1011.2 603.7L1015.5 599.3L1020.9 601.5L1022.0 605.8L1019.8 612.3L1016.6 616.7L1013.3 612.3L1012.3 605.8" fill="none" stroke="#000" stroke-width="1.15" stroke-dasharray="1.15 2.0" stroke-linejoin="round"/>
<path d="M964.6 579.8L962.4 586.3L963.5 592.8L967.8 590.7L970.0 584.2L971.1 577.7Z" fill="none" stroke="#000" stroke-width="1.15" stroke-dasharray="1.15 2.0" stroke-linejoin="round"/>
<path d="M974.3 563.6L972.2 570.1L972.6 579.8L975.4 595.0L977.6 586.3L978.2 575.5L976.9 566.8Z" fill="none" stroke="#000" stroke-width="1.15" stroke-dasharray="1.15 2.0" stroke-linejoin="round"/>
<path d="M952.7 629.7L952.2 638.3L953.1 647.0L953.8 653.5" fill="none" stroke="#000" stroke-width="1.15" stroke-dasharray="1.15 2.0" stroke-linejoin="round"/>
<path d="M958.1 642.7L963.5 643.8L970.0 642.7L970.0 647.0L963.5 647.0Z" fill="none" stroke="#000" stroke-width="1.15" stroke-dasharray="1.15 2.0" stroke-linejoin="round"/>
<path d="M965.7 552.8L970.0 553.8" fill="none" stroke="#000" stroke-width="1.15" stroke-dasharray="1.15 2.0" stroke-linejoin="round"/>
<path d="M1020.9 601.5L1022.0 597.2L1026.3 588.5L1030.7 577.7L1032.8 566.8L1037.2 565.8L1041.5 569.0L1043.7 576.6L1045.9 586.3L1050.2 592.8L1054.5 599.3L1058.9 605.8L1062.1 612.3L1063.2 625.3L1063.6 638.3L1064.3 651.3L1066.4 664.3L1066.4 677.3L1064.3 688.2L1061.0 699.0" fill="none" stroke="#000" stroke-width="1.15" stroke-dasharray="1.15 2.0" stroke-linejoin="round"/>
<path d="M1045.9 549.5L1044.8 556.0L1048.0 559.3L1052.4 557.1L1051.3 551.7Z" fill="none" stroke="#000" stroke-width="1.15" stroke-dasharray="1.15 2.0" stroke-linejoin="round"/>
<path d="M1044.8 584.2L1048.0 580.9L1053.4 582.0L1051.3 590.7L1046.9 593.9Z" fill="none" stroke="#000" stroke-width="1.15" stroke-dasharray="1.15 2.0" stroke-linejoin="round"/>
<path d="M1015.5 642.7L1014.4 651.3L1016.6 661.1L1018.1 651.3L1017.7 642.7Z" fill="none" stroke="#000" stroke-width="1.15" stroke-dasharray="1.15 2.0" stroke-linejoin="round"/>
<path d="M985.2 671.9L989.5 681.7L991.7 690.3L996.0 694.7L1000.3 699.0L999.9 688.2L997.1 681.7L991.7 675.2L988.4 671.9Z" fill="none" stroke="#000" stroke-width="1.15" stroke-dasharray="1.15 2.0" stroke-linejoin="round"/>
<path d="M646.9 698.1L649.0 707.5L646.9 717.9L646.2 726.2L650.0 730.4L653.1 736.7" fill="none" stroke="#000" stroke-width="1.15" stroke-dasharray="1.15 2.0" stroke-linejoin="round"/>
<path d="M654.2 698.1L657.3 705.4L656.2 713.8L658.3 722.1L662.5 729.4L664.6 720.0L668.8 713.8L672.9 707.5L676.0 701.2L677.1 696.0" fill="none" stroke="#000" stroke-width="1.15" stroke-dasharray="1.15 2.0" stroke-linejoin="round"/>
<path d="M668.8 713.8L669.8 724.2L671.9 732.5L675.0 738.8L679.2 732.5L682.3 724.2L683.3 713.8L685.4 703.3L687.5 697.1" fill="none" stroke="#000" stroke-width="1.15" stroke-dasharray="1.15 2.0" stroke-linejoin="round"/>
<path d="M663.5 758.5L664.6 765.8" fill="none" stroke="#000" stroke-width="1.15" stroke-dasharray="1.15 2.0" stroke-linejoin="round"/>
<circle cx="704.2" cy="727.3" r="0.9" fill="#000"/>
<circle cx="774.0" cy="699.2" r="0.9" fill="#000"/>
<circle cx="767.7" cy="782.5" r="0.9" fill="#000"/>
<circle cx="767.7" cy="805.4" r="0.9" fill="#000"/>
<circle cx="710.4" cy="805.4" r="0.9" fill="#000"/>
<circle cx="849.0" cy="780.4" r="0.9" fill="#000"/>
<path d="M715.6 697.1L716.7 705.4L719.8 713.8L722.9 715.8L720.8 724.2L721.9 734.6L719.8 745.0L715.6 748.1L712.1 744.0L713.5 734.6L714.2 726.2L713.5 717.9L714.6 707.5Z" fill="none" stroke="#000" stroke-width="1.15" stroke-dasharray="1.15 2.0" stroke-linejoin="round"/>
<path d="M715.0 755.4L712.5 761.7L715.0 766.9L717.7 761.7Z" fill="none" stroke="#000" stroke-width="1.15" stroke-dasharray="1.15 2.0" stroke-linejoin="round"/>
<path d="M710.4 780.4L715.6 781.5L716.2 788.8L714.6 790.8" fill="none" stroke="#000" stroke-width="1.15" stroke-dasharray="1.15 2.0" stroke-linejoin="round"/>
<path d="M741.7 696.0L741.2 707.5L741.7 720.0L742.7 732.5L743.8 745.0L744.2 757.5L743.3 767.9L741.7 776.2L742.7 783.5L745.8 785.6L749.0 782.5L749.6 774.2L749.0 763.8L751.0 753.3L752.1 740.8L751.7 728.3L750.4 715.8L749.6 705.4L749.0 696.0Z" fill="none" stroke="#000" stroke-width="1.15" stroke-dasharray="1.15 2.0" stroke-linejoin="round"/>
<path d="M779.2 722.1L775.0 721.0L769.8 724.2L767.7 730.4L769.8 736.7L774.0 738.8L776.0 744.0L772.9 748.1L768.8 748.1L767.7 744.0L770.8 739.8" fill="none" stroke="#000" stroke-width="1.15" stroke-dasharray="1.15 2.0" stroke-linejoin="round"/>
<path d="M779.2 722.1L779.6 728.3L777.1 733.5" fill="none" stroke="#000" stroke-width="1.15" stroke-dasharray="1.15 2.0" stroke-linejoin="round"/>
<path d="M784.4 732.5L783.3 740.8L785.0 749.2L784.4 757.5L785.4 765.8L785.8 778.3L785.4 789.8" fill="none" stroke="#000" stroke-width="1.15" stroke-dasharray="1.15 2.0" stroke-linejoin="round"/>
<path d="M787.5 733.5L788.5 742.9L786.5 749.2" fill="none" stroke="#000" stroke-width="1.15" stroke-dasharray="1.15 2.0" stroke-linejoin="round"/>
<path d="M663.5 785.6L660.4 792.9L662.5 801.2L658.3 807.5L654.2 813.8L652.1 820.0L656.2 817.9L661.5 813.8L663.5 820.0L662.5 828.3L663.5 834.6L665.0 826.2L664.6 815.8L666.7 807.5L665.6 799.2L664.6 790.8Z" fill="none" stroke="#000" stroke-width="1.15" stroke-dasharray="1.15 2.0" stroke-linejoin="round"/>
<path d="M676.0 802.3L673.3 807.5L675.4 813.3L678.1 807.5Z" fill="none" stroke="#000" stroke-width="1.15" stroke-dasharray="1.15 2.0" stroke-linejoin="round"/>
<path d="M687.1 795.0L686.5 803.3L687.1 813.8" fill="none" stroke="#000" stroke-width="1.15" stroke-dasharray="1.15 2.0" stroke-linejoin="round"/>
<path d="M732.9 819.0L732.3 830.4L733.3 840.8L734.4 849.2L737.5 855.4L733.3 853.3L729.2 859.6L725.0 862.7L720.8 863.8L718.8 857.5L716.7 851.2L713.5 847.1L710.4 849.2L707.3 855.4L705.2 861.7" fill="none" stroke="#000" stroke-width="1.15" stroke-dasharray="1.15 2.0" stroke-linejoin="round"/>
<path d="M743.8 851.2L746.9 850.8L746.9 859.6" fill="none" stroke="#000" stroke-width="1.15" stroke-dasharray="1.15 2.0" stroke-linejoin="round"/>
<path d="M784.4 824.2L781.7 828.3L782.3 840.8L782.9 853.3L785.0 858.5L787.1 853.3L786.5 840.8L786.5 828.3Z" fill="none" stroke="#000" stroke-width="1.15" stroke-dasharray="1.15 2.0" stroke-linejoin="round"/>
<path d="M830.8 828.3L831.2 836.7L830.8 849.2L831.2 859.6L828.1 861.7L825.0 857.5L824.0 845.0L822.9 832.5L824.0 822.1L826.0 811.7L829.2 803.3L831.7 795.0L832.3 782.5L831.7 770.0L831.2 757.5L830.2 745.0L830.8 732.5L830.2 722.1L833.3 715.8L837.5 713.8L835.4 707.5L831.2 704.4L826.0 703.3L824.0 709.6L820.8 717.9L819.8 728.3L820.4 740.8L819.8 753.3L818.8 765.8L817.7 774.2L814.6 782.5L813.5 792.9L812.5 803.3L811.5 815.8L812.5 828.3L814.6 840.8L815.6 853.3L812.5 861.7L809.4 864.8" fill="none" stroke="#000" stroke-width="1.15" stroke-dasharray="1.15 2.0" stroke-linejoin="round"/>
<path d="M836.5 723.8L834.0 726.2L836.5 728.8L839.0 726.2Z" fill="none" stroke="#000" stroke-width="1.15" stroke-dasharray="1.15 2.0" stroke-linejoin="round"/>
<path d="M849.0 713.8L849.6 722.1L849.0 732.5L849.6 744.0" fill="none" stroke="#000" stroke-width="1.15" stroke-dasharray="1.15 2.0" stroke-linejoin="round"/>
<path d="M855.2 706.9L849.8 714.5L847.6 727.5L848.7 738.3L853.0 747.0L856.3 755.7L857.3 766.5L856.3 777.3L850.8 782.8L856.3 781.7L861.7 783.8L864.9 790.3L866.0 797.9L861.7 801.2L855.2 804.4L849.8 805.5L848.2 816.3L849.8 827.2L846.5 835.8L843.3 842.3L842.2 851.0L845.4 852.1L853.0 849.9L857.3 842.3L860.6 831.5L862.8 820.7L861.7 815.3L867.1 814.2L871.4 820.7L872.1 833.7L872.5 846.7L873.6 857.5L875.8 865.1" fill="none" stroke="#000" stroke-width="1.15" stroke-dasharray="1.15 2.0" stroke-linejoin="round"/>
<path d="M879.0 696.1L876.8 708.0L875.8 721.0L876.8 734.0L872.5 745.9L868.2 738.3L864.9 729.7L860.6 727.5L866.0 721.0L868.2 734.0" fill="none" stroke="#000" stroke-width="1.15" stroke-dasharray="1.15 2.0" stroke-linejoin="round"/>
<path d="M872.5 801.2L873.6 812.0L872.5 820.7" fill="none" stroke="#000" stroke-width="1.15" stroke-dasharray="1.15 2.0" stroke-linejoin="round"/>
<path d="M875.8 825.0L878.6 827.2L879.0 842.3L877.9 855.3" fill="none" stroke="#000" stroke-width="1.15" stroke-dasharray="1.15 2.0" stroke-linejoin="round"/>
<circle cx="971.1" cy="699.3" r="0.9" fill="#000"/>
<circle cx="988.0" cy="790.3" r="0.9" fill="#000"/>
<circle cx="883.3" cy="859.2" r="0.9" fill="#000"/>
<circle cx="1080.1" cy="822.4" r="0.9" fill="#000"/>
<path d="M998.2 696.1L999.3 704.8" fill="none" stroke="#000" stroke-width="1.15" stroke-dasharray="1.15 2.0" stroke-linejoin="round"/>
<path d="M987.3 704.8L984.1 710.2L983.0 718.8L987.3 727.5L991.7 723.2L996.0 719.9L1002.5 721.0L999.3 716.7L994.9 712.3L991.7 705.8Z" fill="none" stroke="#000" stroke-width="1.15" stroke-dasharray="1.15 2.0" stroke-linejoin="round"/>
<path d="M987.3 727.5L985.6 736.2L988.4 744.8L987.3 753.5L988.4 760.0" fill="none" stroke="#000" stroke-width="1.15" stroke-dasharray="1.15 2.0" stroke-linejoin="round"/>
<path d="M899.4 843.4L902.4 843.4" fill="none" stroke="#000" stroke-width="1.15" stroke-dasharray="1.15 2.0" stroke-linejoin="round"/>
<path d="M1033.9 717.8L1032.4 727.5L1032.8 737.3L1036.1 740.1L1040.4 736.2L1042.6 729.7L1039.3 722.1Z" fill="none" stroke="#000" stroke-width="1.15" stroke-dasharray="1.15 2.0" stroke-linejoin="round"/>
<path d="M1063.2 698.3L1056.7 701.5L1051.3 704.8L1050.2 711.3L1056.7 712.3L1065.4 714.5L1068.6 721.0L1069.7 729.7L1067.5 738.3L1068.6 751.3L1071.9 760.0L1072.9 770.8L1074.0 781.7L1071.9 790.3L1075.1 799.0L1074.5 812.0L1075.1 825.0L1075.1 835.8L1074.0 846.7L1074.0 857.5" fill="none" stroke="#000" stroke-width="1.15" stroke-dasharray="1.15 2.0" stroke-linejoin="round"/>
<path d="M1078.4 800.1L1079.4 807.7" fill="none" stroke="#000" stroke-width="1.15" stroke-dasharray="1.15 2.0" stroke-linejoin="round"/>
<path d="M924.5 857.5L928.8 851.0L933.2 856.4L929.9 860.8Z" fill="none" stroke="#000" stroke-width="1.15" stroke-dasharray="1.15 2.0" stroke-linejoin="round"/>
<path d="M946.2 840.2L947.3 857.5" fill="none" stroke="#000" stroke-width="1.15" stroke-dasharray="1.15 2.0" stroke-linejoin="round"/>
<path d="M970.0 865.1L972.2 859.7L978.7 853.2" fill="none" stroke="#000" stroke-width="1.15" stroke-dasharray="1.15 2.0" stroke-linejoin="round"/>
<path d="M987.3 828.3L988.4 838.0L984.1 847.8L991.7 844.5L996.0 848.8L999.3 849.9L996.0 857.5L994.9 862.9" fill="none" stroke="#000" stroke-width="1.15" stroke-dasharray="1.15 2.0" stroke-linejoin="round"/>
</g>
<text x="96.20" y="421.70" font-size="20.83" text-anchor="middle" fill="#262626" font-weight="normal" >0</text>
<text x="211.70" y="421.70" font-size="20.83" text-anchor="middle" fill="#262626" font-weight="normal" >20</text>
<text x="327.20" y="421.70" font-size="20.83" text-anchor="middle" fill="#262626" font-weight="normal" >40</text>
<text x="442.70" y="421.70" font-size="20.83" text-anchor="middle" fill="#262626" font-weight="normal" >60</text>
<text x="558.20" y="421.70" font-size="20.83" text-anchor="middle" fill="#262626" font-weight="normal" >80</text>
<text x="87.10" y="97.40" font-size="20.83" text-anchor="end" fill="#262626" font-weight="normal" >4</text>
<text x="87.10" y="173.50" font-size="20.83" text-anchor="end" fill="#262626" font-weight="normal" >3.5</text>
<text x="87.10" y="249.60" font-size="20.83" text-anchor="end" fill="#262626" font-weight="normal" >3</text>
<text x="87.10" y="325.70" font-size="20.83" text-anchor="end" fill="#262626" font-weight="normal" >2.5</text>
<text x="333.40" y="450.60" font-size="22.92" text-anchor="middle" fill="#262626" font-weight="normal" >Profile Number</text>
<g transform="translate(40.8,254.20000000000002) rotate(-90)" fill="#262626" font-size="22.92"><text x="0" y="0"><tspan font-family='"Liberation Serif", "DejaVu Serif", serif' font-style="italic" font-weight="normal" font-size="25">θ</tspan></text><text x="19.2" y="-10.6" font-size="18.3">o</text><text x="30.6" y="0">C</text></g>
<text x="96.20" y="893.90" font-size="20.83" text-anchor="middle" fill="#262626" font-weight="normal" >0</text>
<text x="211.70" y="893.90" font-size="20.83" text-anchor="middle" fill="#262626" font-weight="normal" >20</text>
<text x="327.20" y="893.90" font-size="20.83" text-anchor="middle" fill="#262626" font-weight="normal" >40</text>
<text x="442.70" y="893.90" font-size="20.83" text-anchor="middle" fill="#262626" font-weight="normal" >60</text>
<text x="558.20" y="893.90" font-size="20.83" text-anchor="middle" fill="#262626" font-weight="normal" >80</text>
<text x="87.10" y="570.70" font-size="20.83" text-anchor="end" fill="#262626" font-weight="normal" >4</text>
<text x="87.10" y="646.80" font-size="20.83" text-anchor="end" fill="#262626" font-weight="normal" >3.5</text>
<text x="87.10" y="722.90" font-size="20.83" text-anchor="end" fill="#262626" font-weight="normal" >3</text>
<text x="87.10" y="799.00" font-size="20.83" text-anchor="end" fill="#262626" font-weight="normal" >2.5</text>
<text x="333.40" y="922.80" font-size="22.92" text-anchor="middle" fill="#262626" font-weight="normal" >Profile Number</text>
<g transform="translate(40.8,726.8) rotate(-90)" fill="#262626" font-size="22.92"><text x="0" y="0"><tspan font-family='"Liberation Serif", "DejaVu Serif", serif' font-style="italic" font-weight="normal" font-size="25">θ</tspan></text><text x="19.2" y="-10.6" font-size="18.3">o</text><text x="30.6" y="0">C</text></g>
<text x="612.20" y="893.90" font-size="20.83" text-anchor="middle" fill="#262626" font-weight="normal" >0</text>
<text x="727.70" y="893.90" font-size="20.83" text-anchor="middle" fill="#262626" font-weight="normal" >20</text>
<text x="843.20" y="893.90" font-size="20.83" text-anchor="middle" fill="#262626" font-weight="normal" >40</text>
<text x="958.70" y="893.90" font-size="20.83" text-anchor="middle" fill="#262626" font-weight="normal" >60</text>
<text x="1074.20" y="893.90" font-size="20.83" text-anchor="middle" fill="#262626" font-weight="normal" >80</text>
<text x="603.10" y="570.70" font-size="20.83" text-anchor="end" fill="#262626" font-weight="normal" >4</text>
<text x="603.10" y="646.80" font-size="20.83" text-anchor="end" fill="#262626" font-weight="normal" >3.5</text>
<text x="603.10" y="722.90" font-size="20.83" text-anchor="end" fill="#262626" font-weight="normal" >3</text>
<text x="603.10" y="799.00" font-size="20.83" text-anchor="end" fill="#262626" font-weight="normal" >2.5</text>
<text x="849.40" y="922.80" font-size="22.92" text-anchor="middle" fill="#262626" font-weight="normal" >Profile Number</text>
<g transform="translate(556.8,726.8) rotate(-90)" fill="#262626" font-size="22.92"><text x="0" y="0"><tspan font-family='"Liberation Serif", "DejaVu Serif", serif' font-style="italic" font-weight="normal" font-size="25">θ</tspan></text><text x="19.2" y="-10.6" font-size="18.3">o</text><text x="30.6" y="0">C</text></g>
<line x1="612.50" y1="66.00" x2="612.50" y2="393.80" stroke="#262626" stroke-width="1" />
<line x1="612.00" y1="393.50" x2="1085.50" y2="393.50" stroke="#262626" stroke-width="1" />
<line x1="612.50" y1="66.50" x2="617.20" y2="66.50" stroke="#262626" stroke-width="1" />
<text x="602.90" y="74.50" font-size="20.83" text-anchor="end" fill="#262626" font-weight="normal" >26</text>
<line x1="612.50" y1="120.50" x2="617.20" y2="120.50" stroke="#262626" stroke-width="1" />
<text x="602.90" y="128.97" font-size="20.83" text-anchor="end" fill="#262626" font-weight="normal" >24</text>
<line x1="612.50" y1="175.50" x2="617.20" y2="175.50" stroke="#262626" stroke-width="1" />
<text x="602.90" y="183.44" font-size="20.83" text-anchor="end" fill="#262626" font-weight="normal" >22</text>
<line x1="612.50" y1="229.50" x2="617.20" y2="229.50" stroke="#262626" stroke-width="1" />
<text x="602.90" y="237.91" font-size="20.83" text-anchor="end" fill="#262626" font-weight="normal" >20</text>
<line x1="612.50" y1="284.50" x2="617.20" y2="284.50" stroke="#262626" stroke-width="1" />
<text x="602.90" y="292.38" font-size="20.83" text-anchor="end" fill="#262626" font-weight="normal" >18</text>
<line x1="612.50" y1="338.50" x2="617.20" y2="338.50" stroke="#262626" stroke-width="1" />
<text x="602.90" y="346.85" font-size="20.83" text-anchor="end" fill="#262626" font-weight="normal" >16</text>
<line x1="612.50" y1="393.50" x2="617.20" y2="393.50" stroke="#262626" stroke-width="1" />
<text x="602.90" y="401.32" font-size="20.83" text-anchor="end" fill="#262626" font-weight="normal" >14</text>
<line x1="657.50" y1="393.30" x2="657.50" y2="388.60" stroke="#262626" stroke-width="1" />
<text x="657.80" y="422.60" font-size="20.83" text-anchor="middle" fill="#262626" font-weight="normal" >-180</text>
<line x1="734.50" y1="393.30" x2="734.50" y2="388.60" stroke="#262626" stroke-width="1" />
<text x="734.20" y="422.60" font-size="20.83" text-anchor="middle" fill="#262626" font-weight="normal" >-175</text>
<line x1="810.50" y1="393.30" x2="810.50" y2="388.60" stroke="#262626" stroke-width="1" />
<text x="810.60" y="422.60" font-size="20.83" text-anchor="middle" fill="#262626" font-weight="normal" >-170</text>
<line x1="886.50" y1="393.30" x2="886.50" y2="388.60" stroke="#262626" stroke-width="1" />
<text x="887.00" y="422.60" font-size="20.83" text-anchor="middle" fill="#262626" font-weight="normal" >-165</text>
<line x1="963.50" y1="393.30" x2="963.50" y2="388.60" stroke="#262626" stroke-width="1" />
<text x="963.40" y="422.60" font-size="20.83" text-anchor="middle" fill="#262626" font-weight="normal" >-160</text>
<line x1="1039.50" y1="393.30" x2="1039.50" y2="388.60" stroke="#262626" stroke-width="1" />
<text x="1039.80" y="422.60" font-size="20.83" text-anchor="middle" fill="#262626" font-weight="normal" >-155</text>
<text x="332.50" y="56.70" font-size="22.92" text-anchor="middle" fill="#000" font-weight="bold" xml:space="preserve">MIMOC anomalies on <tspan dx="1"><tspan font-family='"Liberation Serif", "DejaVu Serif", serif' font-style="italic" font-weight="normal" font-size="25">θ</tspan></tspan><tspan dx="2">  for 4901661</tspan></text>
<text x="849.00" y="56.70" font-size="22.92" text-anchor="middle" fill="#000" font-weight="bold" >Profile Positions: *=start; 0 = DMQC</text>
<text x="332.00" y="529.70" font-size="22.92" text-anchor="middle" fill="#000" font-weight="bold" >CARS NEW anomalies on <tspan dx="0.8"><tspan font-family='"Liberation Serif", "DejaVu Serif", serif' font-style="italic" font-weight="normal" font-size="25">θ</tspan></tspan><tspan dx="1.7"> for 4901661</tspan></text>
<text x="844.30" y="529.70" font-size="22.92" text-anchor="middle" fill="#000" font-weight="bold" >Anomalies from all profile average on <tspan font-family='"Liberation Serif", "DejaVu Serif", serif' font-style="italic" font-weight="normal" font-size="25">θ</tspan></text>
<text x="539.60" y="968.00" font-size="22.92" text-anchor="middle" fill="#000" font-weight="bold" >NOAA, PMEL, Seattle at aoml S on <tspan dx="1"><tspan font-family='"Liberation Serif", "DejaVu Serif", serif' font-style="italic" font-weight="normal" font-size="25">θ</tspan></tspan><tspan dx="2.4"> = 2.1012</tspan><tspan dy="-10.5" font-size="18.3">o</tspan><tspan dy="10.5">C</tspan></text>
<rect x="1116.5" y="62.50" width="29.20" height="13.14" fill="#ae001e"/>
<rect x="1116.5" y="75.04" width="29.20" height="13.14" fill="#b80018"/>
<rect x="1116.5" y="87.59" width="29.20" height="13.14" fill="#c1000e"/>
<rect x="1116.5" y="100.13" width="29.20" height="13.14" fill="#cc0008"/>
<rect x="1116.5" y="112.67" width="29.20" height="13.14" fill="#d60003"/>
<rect x="1116.5" y="125.22" width="29.20" height="13.14" fill="#e02800"/>
<rect x="1116.5" y="137.76" width="29.20" height="13.14" fill="#e83800"/>
<rect x="1116.5" y="150.31" width="29.20" height="13.14" fill="#ee4800"/>
<rect x="1116.5" y="162.85" width="29.20" height="13.14" fill="#f85c00"/>
<rect x="1116.5" y="175.39" width="29.20" height="13.14" fill="#fc6400"/>
<rect x="1116.5" y="187.94" width="29.20" height="13.14" fill="#ff7000"/>
<rect x="1116.5" y="200.48" width="29.20" height="13.14" fill="#ff7c00"/>
<rect x="1116.5" y="213.02" width="29.20" height="13.14" fill="#ff8800"/>
<rect x="1116.5" y="225.57" width="29.20" height="13.14" fill="#ff9400"/>
<rect x="1116.5" y="238.11" width="29.20" height="13.14" fill="#ffa000"/>
<rect x="1116.5" y="250.66" width="29.20" height="13.14" fill="#ffaa00"/>
<rect x="1116.5" y="263.20" width="29.20" height="13.14" fill="#ffb000"/>
<rect x="1116.5" y="275.74" width="29.20" height="13.14" fill="#f8b800"/>
<rect x="1116.5" y="288.29" width="29.20" height="13.14" fill="#f6c000"/>
<rect x="1116.5" y="300.83" width="29.20" height="13.14" fill="#f4c800"/>
<rect x="1116.5" y="313.38" width="29.20" height="13.14" fill="#f2d000"/>
<rect x="1116.5" y="325.92" width="29.20" height="13.14" fill="#f0d800"/>
<rect x="1116.5" y="338.46" width="29.20" height="13.14" fill="#eee000"/>
<rect x="1116.5" y="351.01" width="29.20" height="13.14" fill="#e8e060"/>
<rect x="1116.5" y="363.55" width="29.20" height="13.14" fill="#e8e470"/>
<rect x="1116.5" y="376.09" width="29.20" height="13.14" fill="#e6e690"/>
<rect x="1116.5" y="388.64" width="29.20" height="13.14" fill="#e4e4a8"/>
<rect x="1116.5" y="401.18" width="29.20" height="13.14" fill="#e0e0b8"/>
<rect x="1116.5" y="413.72" width="29.20" height="13.14" fill="#dcdcc8"/>
<rect x="1116.5" y="426.27" width="29.20" height="13.14" fill="#dadad0"/>
<rect x="1116.5" y="438.81" width="29.20" height="13.14" fill="#d8d8d4"/>
<rect x="1116.5" y="451.36" width="29.20" height="13.14" fill="#d6d6d6"/>
<rect x="1116.5" y="463.90" width="29.20" height="13.14" fill="#d6d6d6"/>
<rect x="1116.5" y="476.44" width="29.20" height="13.14" fill="#d4dad0"/>
<rect x="1116.5" y="488.99" width="29.20" height="13.14" fill="#d4e0c4"/>
<rect x="1116.5" y="501.53" width="29.20" height="13.14" fill="#d2e4b8"/>
<rect x="1116.5" y="514.08" width="29.20" height="13.14" fill="#d0e8b0"/>
<rect x="1116.5" y="526.62" width="29.20" height="13.14" fill="#d0eca8"/>
<rect x="1116.5" y="539.16" width="29.20" height="13.14" fill="#c8eaa0"/>
<rect x="1116.5" y="551.71" width="29.20" height="13.14" fill="#bce898"/>
<rect x="1116.5" y="564.25" width="29.20" height="13.14" fill="#b0e294"/>
<rect x="1116.5" y="576.79" width="29.20" height="13.14" fill="#a4dc92"/>
<rect x="1116.5" y="589.34" width="29.20" height="13.14" fill="#98d690"/>
<rect x="1116.5" y="601.88" width="29.20" height="13.14" fill="#8ace8c"/>
<rect x="1116.5" y="614.42" width="29.20" height="13.14" fill="#7cc888"/>
<rect x="1116.5" y="626.97" width="29.20" height="13.14" fill="#6ec284"/>
<rect x="1116.5" y="639.51" width="29.20" height="13.14" fill="#5cba80"/>
<rect x="1116.5" y="652.06" width="29.20" height="13.14" fill="#4cb480"/>
<rect x="1116.5" y="664.60" width="29.20" height="13.14" fill="#42b07c"/>
<rect x="1116.5" y="677.14" width="29.20" height="13.14" fill="#3aaa80"/>
<rect x="1116.5" y="689.69" width="29.20" height="13.14" fill="#34a088"/>
<rect x="1116.5" y="702.23" width="29.20" height="13.14" fill="#329694"/>
<rect x="1116.5" y="714.77" width="29.20" height="13.14" fill="#3690a0"/>
<rect x="1116.5" y="727.32" width="29.20" height="13.14" fill="#3c88b0"/>
<rect x="1116.5" y="739.86" width="29.20" height="13.14" fill="#427ebc"/>
<rect x="1116.5" y="752.41" width="29.20" height="13.14" fill="#4874c4"/>
<rect x="1116.5" y="764.95" width="29.20" height="13.14" fill="#4a6cc4"/>
<rect x="1116.5" y="777.49" width="29.20" height="13.14" fill="#4a68bc"/>
<rect x="1116.5" y="790.04" width="29.20" height="13.14" fill="#4864b0"/>
<rect x="1116.5" y="802.58" width="29.20" height="13.14" fill="#4660a8"/>
<rect x="1116.5" y="815.12" width="29.20" height="13.14" fill="#445ea0"/>
<rect x="1116.5" y="827.67" width="29.20" height="13.14" fill="#425c98"/>
<rect x="1116.5" y="840.21" width="29.20" height="13.14" fill="#405a92"/>
<rect x="1116.5" y="852.76" width="29.20" height="13.14" fill="#405a90"/>
<rect x="1116.5" y="62.5" width="29.20" height="802.80" fill="none" stroke="#262626" stroke-width="1"/>
<text x="1154.10" y="69.75" font-size="18.75" text-anchor="start" fill="#262626" font-weight="normal" >0.1</text>
<line x1="1145.70" y1="143.50" x2="1137.20" y2="143.50" stroke="#262626" stroke-width="1" />
<text x="1154.10" y="150.00" font-size="18.75" text-anchor="start" fill="#262626" font-weight="normal" >0.08</text>
<line x1="1145.70" y1="223.50" x2="1137.20" y2="223.50" stroke="#262626" stroke-width="1" />
<text x="1154.10" y="230.25" font-size="18.75" text-anchor="start" fill="#262626" font-weight="normal" >0.06</text>
<line x1="1145.70" y1="303.50" x2="1137.20" y2="303.50" stroke="#262626" stroke-width="1" />
<text x="1154.10" y="310.50" font-size="18.75" text-anchor="start" fill="#262626" font-weight="normal" >0.04</text>
<line x1="1145.70" y1="384.50" x2="1137.20" y2="384.50" stroke="#262626" stroke-width="1" />
<text x="1154.10" y="390.75" font-size="18.75" text-anchor="start" fill="#262626" font-weight="normal" >0.02</text>
<line x1="1145.70" y1="464.50" x2="1137.20" y2="464.50" stroke="#262626" stroke-width="1" />
<text x="1154.10" y="471.00" font-size="18.75" text-anchor="start" fill="#262626" font-weight="normal" >0</text>
<line x1="1145.70" y1="544.50" x2="1137.20" y2="544.50" stroke="#262626" stroke-width="1" />
<text x="1154.10" y="551.25" font-size="18.75" text-anchor="start" fill="#262626" font-weight="normal" >-0.02</text>
<line x1="1145.70" y1="624.50" x2="1137.20" y2="624.50" stroke="#262626" stroke-width="1" />
<text x="1154.10" y="631.50" font-size="18.75" text-anchor="start" fill="#262626" font-weight="normal" >-0.04</text>
<line x1="1145.70" y1="705.50" x2="1137.20" y2="705.50" stroke="#262626" stroke-width="1" />
<text x="1154.10" y="711.75" font-size="18.75" text-anchor="start" fill="#262626" font-weight="normal" >-0.06</text>
<line x1="1145.70" y1="785.50" x2="1137.20" y2="785.50" stroke="#262626" stroke-width="1" />
<text x="1154.10" y="792.00" font-size="18.75" text-anchor="start" fill="#262626" font-weight="normal" >-0.08</text>
<text x="1154.10" y="872.25" font-size="18.75" text-anchor="start" fill="#262626" font-weight="normal" >-0.1</text>
<line x1="204.50" y1="976.50" x2="204.50" y2="1448.50" stroke="#dfdfdf" stroke-width="1" />
<line x1="313.50" y1="976.50" x2="313.50" y2="1448.50" stroke="#dfdfdf" stroke-width="1" />
<line x1="421.50" y1="976.50" x2="421.50" y2="1448.50" stroke="#dfdfdf" stroke-width="1" />
<line x1="529.50" y1="976.50" x2="529.50" y2="1448.50" stroke="#dfdfdf" stroke-width="1" />
<line x1="637.50" y1="976.50" x2="637.50" y2="1448.50" stroke="#dfdfdf" stroke-width="1" />
<line x1="746.50" y1="976.50" x2="746.50" y2="1448.50" stroke="#dfdfdf" stroke-width="1" />
<line x1="854.50" y1="976.50" x2="854.50" y2="1448.50" stroke="#dfdfdf" stroke-width="1" />
<line x1="962.50" y1="976.50" x2="962.50" y2="1448.50" stroke="#dfdfdf" stroke-width="1" />
<line x1="96.50" y1="1071.50" x2="983.50" y2="1071.50" stroke="#dfdfdf" stroke-width="1" />
<line x1="96.50" y1="1165.50" x2="983.50" y2="1165.50" stroke="#dfdfdf" stroke-width="1" />
<line x1="96.50" y1="1260.50" x2="983.50" y2="1260.50" stroke="#dfdfdf" stroke-width="1" />
<line x1="96.50" y1="1354.50" x2="983.50" y2="1354.50" stroke="#dfdfdf" stroke-width="1" />
<rect x="96.5" y="976.5" width="887.0" height="472.0" fill="none" stroke="#262626" stroke-width="1"/>
<text x="96.20" y="1476.90" font-size="20.83" text-anchor="middle" fill="#262626" font-weight="normal" >0</text>
<line x1="204.50" y1="1448.50" x2="204.50" y2="1439.60" stroke="#262626" stroke-width="1" />
<line x1="204.50" y1="976.50" x2="204.50" y2="985.40" stroke="#262626" stroke-width="1" />
<text x="204.45" y="1476.90" font-size="20.83" text-anchor="middle" fill="#262626" font-weight="normal" >10</text>
<line x1="313.50" y1="1448.50" x2="313.50" y2="1439.60" stroke="#262626" stroke-width="1" />
<line x1="313.50" y1="976.50" x2="313.50" y2="985.40" stroke="#262626" stroke-width="1" />
<text x="312.70" y="1476.90" font-size="20.83" text-anchor="middle" fill="#262626" font-weight="normal" >20</text>
<line x1="421.50" y1="1448.50" x2="421.50" y2="1439.60" stroke="#262626" stroke-width="1" />
<line x1="421.50" y1="976.50" x2="421.50" y2="985.40" stroke="#262626" stroke-width="1" />
<text x="420.95" y="1476.90" font-size="20.83" text-anchor="middle" fill="#262626" font-weight="normal" >30</text>
<line x1="529.50" y1="1448.50" x2="529.50" y2="1439.60" stroke="#262626" stroke-width="1" />
<line x1="529.50" y1="976.50" x2="529.50" y2="985.40" stroke="#262626" stroke-width="1" />
<text x="529.20" y="1476.90" font-size="20.83" text-anchor="middle" fill="#262626" font-weight="normal" >40</text>
<line x1="637.50" y1="1448.50" x2="637.50" y2="1439.60" stroke="#262626" stroke-width="1" />
<line x1="637.50" y1="976.50" x2="637.50" y2="985.40" stroke="#262626" stroke-width="1" />
<text x="637.45" y="1476.90" font-size="20.83" text-anchor="middle" fill="#262626" font-weight="normal" >50</text>
<line x1="746.50" y1="1448.50" x2="746.50" y2="1439.60" stroke="#262626" stroke-width="1" />
<line x1="746.50" y1="976.50" x2="746.50" y2="985.40" stroke="#262626" stroke-width="1" />
<text x="745.70" y="1476.90" font-size="20.83" text-anchor="middle" fill="#262626" font-weight="normal" >60</text>
<line x1="854.50" y1="1448.50" x2="854.50" y2="1439.60" stroke="#262626" stroke-width="1" />
<line x1="854.50" y1="976.50" x2="854.50" y2="985.40" stroke="#262626" stroke-width="1" />
<text x="853.95" y="1476.90" font-size="20.83" text-anchor="middle" fill="#262626" font-weight="normal" >70</text>
<line x1="962.50" y1="1448.50" x2="962.50" y2="1439.60" stroke="#262626" stroke-width="1" />
<line x1="962.50" y1="976.50" x2="962.50" y2="985.40" stroke="#262626" stroke-width="1" />
<text x="962.20" y="1476.90" font-size="20.83" text-anchor="middle" fill="#262626" font-weight="normal" >80</text>
<text x="88.10" y="985.20" font-size="20.83" text-anchor="end" fill="#262626" font-weight="normal" >34.63</text>
<line x1="96.50" y1="1071.50" x2="105.40" y2="1071.50" stroke="#262626" stroke-width="1" />
<line x1="983.50" y1="1071.50" x2="974.60" y2="1071.50" stroke="#262626" stroke-width="1" />
<text x="88.10" y="1079.47" font-size="20.83" text-anchor="end" fill="#262626" font-weight="normal" >34.625</text>
<line x1="96.50" y1="1165.50" x2="105.40" y2="1165.50" stroke="#262626" stroke-width="1" />
<line x1="983.50" y1="1165.50" x2="974.60" y2="1165.50" stroke="#262626" stroke-width="1" />
<text x="88.10" y="1173.74" font-size="20.83" text-anchor="end" fill="#262626" font-weight="normal" >34.62</text>
<line x1="96.50" y1="1260.50" x2="105.40" y2="1260.50" stroke="#262626" stroke-width="1" />
<line x1="983.50" y1="1260.50" x2="974.60" y2="1260.50" stroke="#262626" stroke-width="1" />
<text x="88.10" y="1268.01" font-size="20.83" text-anchor="end" fill="#262626" font-weight="normal" >34.615</text>
<line x1="96.50" y1="1354.50" x2="105.40" y2="1354.50" stroke="#262626" stroke-width="1" />
<line x1="983.50" y1="1354.50" x2="974.60" y2="1354.50" stroke="#262626" stroke-width="1" />
<text x="88.10" y="1362.28" font-size="20.83" text-anchor="end" fill="#262626" font-weight="normal" >34.61</text>
<text x="88.10" y="1456.55" font-size="20.83" text-anchor="end" fill="#262626" font-weight="normal" >34.605</text>
<text x="540.00" y="1505.70" font-size="22.92" text-anchor="middle" fill="#262626" font-weight="normal" >Profile Number for SN 5927</text>
<g transform="translate(1.8,1212.5) rotate(-90)"><text x="0" y="0" font-size="22.92" text-anchor="middle" fill="#262626">Salinity</text></g>
<text x="48.80" y="1549.00" font-size="16.67" text-anchor="start" fill="#000" font-weight="normal" >WHOI Argo:22-Nov-2018</text>
<rect x="995.5" y="977.5" width="181" height="471" fill="#fff" stroke="#262626" stroke-width="1"/>
<line x1="1001" y1="1045.5" x2="1062.6" y2="1045.5" stroke="#0000ff" stroke-width="1" stroke-dasharray="1 3"/>
<path d="M1026.10 1045.50H1038.50M1032.30 1039.30V1051.70M1027.92 1041.12L1036.68 1049.88M1027.92 1049.88L1036.68 1041.12" stroke="#0000ff" stroke-width="1" fill="none"/>
<line x1="1001" y1="1157.5" x2="1062.6" y2="1157.5" stroke="#ff00ff" stroke-width="1"/>
<circle cx="1032.3" cy="1157.5" r="2.3" fill="#ff00ff"/>
<line x1="1001" y1="1268.5" x2="1062.6" y2="1268.5" stroke="#00ff00" stroke-width="1"/>
<circle cx="1032.3" cy="1268.5" r="2.3" fill="#00ff00"/>
<line x1="1001" y1="1380.5" x2="1062.6" y2="1380.5" stroke="#000" stroke-width="1" stroke-dasharray="8 3 1 3"/>
<circle cx="1032.3" cy="1380.5" r="6" fill="none" stroke="#000" stroke-width="1"/>
<text x="1069.20" y="1052.70" font-size="18.75" text-anchor="start" fill="#000" font-weight="normal" >Raw float</text>
<text x="1069.20" y="1164.70" font-size="18.75" text-anchor="start" fill="#000" font-weight="normal" >MIMOC</text>
<text x="1069.20" y="1275.70" font-size="18.75" text-anchor="start" fill="#000" font-weight="normal" >CARS NEW</text>
<text x="1069.20" y="1387.70" font-size="18.75" text-anchor="start" fill="#000" font-weight="normal" >Best float</text>
<polyline points="107.3,1168.2 118.2,1152.5 129.0,1139.5 139.8,1136.8 150.6,1136.2 161.4,1136.8 172.3,1138.0 183.1,1140.0 193.9,1142.8 204.8,1149.5 215.6,1159.0 226.4,1153.8 237.2,1140.8 248.0,1132.5 269.7,1130.0 280.5,1125.5 291.4,1126.2 302.2,1119.2 323.8,1094.5 334.6,1091.2 345.5,1090.5 367.1,1138.2 377.9,1169.0 388.8,1197.0 399.6,1165.8 410.4,1074.5 421.2,1037.0 432.1,1093.0 442.9,1146.2 453.7,1188.0 464.5,1185.0 475.4,1166.2 486.2,1136.8 497.0,1144.2 507.8,1171.8 518.7,1198.0 529.5,1212.0 540.3,1220.0 551.1,1208.8 562.0,1188.0 572.8,1150.0 583.6,1133.8 594.5,1133.2 605.3,1135.0 616.1,1117.5 626.9,1105.8 637.8,1122.5 648.6,1132.5 659.4,1140.2 670.2,1155.8 681.0,1171.4 691.9,1180.4 702.7,1184.7 713.5,1189.8 724.3,1192.3 735.2,1188.9 746.0,1194.6 756.8,1204.0 767.6,1215.3 778.5,1227.2 800.1,1210.2 810.9,1200.8 821.8,1184.7 832.6,1147.8 843.4,1097.4 854.2,1084.9 865.1,1090.3 875.9,1089.2 886.7,1096.8 897.5,1101.7 908.4,1118.1 919.2,1128.6 940.8,1184.7 962.5,1376.5 973.3,1383.0" fill="none" stroke="#00ff00" stroke-width="1"/>
<circle cx="107.3" cy="1168.2" r="2.3" fill="#00ff00"/>
<circle cx="118.2" cy="1152.5" r="2.3" fill="#00ff00"/>
<circle cx="129.0" cy="1139.5" r="2.3" fill="#00ff00"/>
<circle cx="139.8" cy="1136.8" r="2.3" fill="#00ff00"/>
<circle cx="150.6" cy="1136.2" r="2.3" fill="#00ff00"/>
<circle cx="161.4" cy="1136.8" r="2.3" fill="#00ff00"/>
<circle cx="172.3" cy="1138.0" r="2.3" fill="#00ff00"/>
<circle cx="183.1" cy="1140.0" r="2.3" fill="#00ff00"/>
<circle cx="193.9" cy="1142.8" r="2.3" fill="#00ff00"/>
<circle cx="204.8" cy="1149.5" r="2.3" fill="#00ff00"/>
<circle cx="215.6" cy="1159.0" r="2.3" fill="#00ff00"/>
<circle cx="226.4" cy="1153.8" r="2.3" fill="#00ff00"/>
<circle cx="237.2" cy="1140.8" r="2.3" fill="#00ff00"/>
<circle cx="248.0" cy="1132.5" r="2.3" fill="#00ff00"/>
<circle cx="269.7" cy="1130.0" r="2.3" fill="#00ff00"/>
<circle cx="280.5" cy="1125.5" r="2.3" fill="#00ff00"/>
<circle cx="291.4" cy="1126.2" r="2.3" fill="#00ff00"/>
<circle cx="302.2" cy="1119.2" r="2.3" fill="#00ff00"/>
<circle cx="323.8" cy="1094.5" r="2.3" fill="#00ff00"/>
<circle cx="334.6" cy="1091.2" r="2.3" fill="#00ff00"/>
<circle cx="345.5" cy="1090.5" r="2.3" fill="#00ff00"/>
<circle cx="367.1" cy="1138.2" r="2.3" fill="#00ff00"/>
<circle cx="377.9" cy="1169.0" r="2.3" fill="#00ff00"/>
<circle cx="388.8" cy="1197.0" r="2.3" fill="#00ff00"/>
<circle cx="399.6" cy="1165.8" r="2.3" fill="#00ff00"/>
<circle cx="410.4" cy="1074.5" r="2.3" fill="#00ff00"/>
<circle cx="421.2" cy="1037.0" r="2.3" fill="#00ff00"/>
<circle cx="432.1" cy="1093.0" r="2.3" fill="#00ff00"/>
<circle cx="442.9" cy="1146.2" r="2.3" fill="#00ff00"/>
<circle cx="453.7" cy="1188.0" r="2.3" fill="#00ff00"/>
<circle cx="464.5" cy="1185.0" r="2.3" fill="#00ff00"/>
<circle cx="475.4" cy="1166.2" r="2.3" fill="#00ff00"/>
<circle cx="486.2" cy="1136.8" r="2.3" fill="#00ff00"/>
<circle cx="497.0" cy="1144.2" r="2.3" fill="#00ff00"/>
<circle cx="507.8" cy="1171.8" r="2.3" fill="#00ff00"/>
<circle cx="518.7" cy="1198.0" r="2.3" fill="#00ff00"/>
<circle cx="529.5" cy="1212.0" r="2.3" fill="#00ff00"/>
<circle cx="540.3" cy="1220.0" r="2.3" fill="#00ff00"/>
<circle cx="551.1" cy="1208.8" r="2.3" fill="#00ff00"/>
<circle cx="562.0" cy="1188.0" r="2.3" fill="#00ff00"/>
<circle cx="572.8" cy="1150.0" r="2.3" fill="#00ff00"/>
<circle cx="583.6" cy="1133.8" r="2.3" fill="#00ff00"/>
<circle cx="594.5" cy="1133.2" r="2.3" fill="#00ff00"/>
<circle cx="605.3" cy="1135.0" r="2.3" fill="#00ff00"/>
<circle cx="616.1" cy="1117.5" r="2.3" fill="#00ff00"/>
<circle cx="626.9" cy="1105.8" r="2.3" fill="#00ff00"/>
<circle cx="637.8" cy="1122.5" r="2.3" fill="#00ff00"/>
<circle cx="648.6" cy="1132.5" r="2.3" fill="#00ff00"/>
<circle cx="659.4" cy="1140.2" r="2.3" fill="#00ff00"/>
<circle cx="670.2" cy="1155.8" r="2.3" fill="#00ff00"/>
<circle cx="681.0" cy="1171.4" r="2.3" fill="#00ff00"/>
<circle cx="691.9" cy="1180.4" r="2.3" fill="#00ff00"/>
<circle cx="702.7" cy="1184.7" r="2.3" fill="#00ff00"/>
<circle cx="713.5" cy="1189.8" r="2.3" fill="#00ff00"/>
<circle cx="724.3" cy="1192.3" r="2.3" fill="#00ff00"/>
<circle cx="735.2" cy="1188.9" r="2.3" fill="#00ff00"/>
<circle cx="746.0" cy="1194.6" r="2.3" fill="#00ff00"/>
<circle cx="756.8" cy="1204.0" r="2.3" fill="#00ff00"/>
<circle cx="767.6" cy="1215.3" r="2.3" fill="#00ff00"/>
<circle cx="778.5" cy="1227.2" r="2.3" fill="#00ff00"/>
<circle cx="800.1" cy="1210.2" r="2.3" fill="#00ff00"/>
<circle cx="810.9" cy="1200.8" r="2.3" fill="#00ff00"/>
<circle cx="821.8" cy="1184.7" r="2.3" fill="#00ff00"/>
<circle cx="832.6" cy="1147.8" r="2.3" fill="#00ff00"/>
<circle cx="843.4" cy="1097.4" r="2.3" fill="#00ff00"/>
<circle cx="854.2" cy="1084.9" r="2.3" fill="#00ff00"/>
<circle cx="865.1" cy="1090.3" r="2.3" fill="#00ff00"/>
<circle cx="875.9" cy="1089.2" r="2.3" fill="#00ff00"/>
<circle cx="886.7" cy="1096.8" r="2.3" fill="#00ff00"/>
<circle cx="897.5" cy="1101.7" r="2.3" fill="#00ff00"/>
<circle cx="908.4" cy="1118.1" r="2.3" fill="#00ff00"/>
<circle cx="919.2" cy="1128.6" r="2.3" fill="#00ff00"/>
<circle cx="940.8" cy="1184.7" r="2.3" fill="#00ff00"/>
<circle cx="962.5" cy="1376.5" r="2.3" fill="#00ff00"/>
<circle cx="973.3" cy="1383.0" r="2.3" fill="#00ff00"/>
<polyline points="107.3,1134.8 118.2,1119.2 129.0,1117.2 139.8,1118.5 150.6,1118.2" fill="none" stroke="#ff00ff" stroke-width="1"/>
<circle cx="107.3" cy="1134.8" r="2.3" fill="#ff00ff"/>
<circle cx="118.2" cy="1119.2" r="2.3" fill="#ff00ff"/>
<circle cx="129.0" cy="1117.2" r="2.3" fill="#ff00ff"/>
<circle cx="139.8" cy="1118.5" r="2.3" fill="#ff00ff"/>
<circle cx="150.6" cy="1118.2" r="2.3" fill="#ff00ff"/>
<polyline points="172.3,1119.0 183.1,1112.5 193.9,1106.8 204.8,1112.0 215.6,1115.0 226.4,1104.0" fill="none" stroke="#ff00ff" stroke-width="1"/>
<circle cx="172.3" cy="1119.0" r="2.3" fill="#ff00ff"/>
<circle cx="183.1" cy="1112.5" r="2.3" fill="#ff00ff"/>
<circle cx="193.9" cy="1106.8" r="2.3" fill="#ff00ff"/>
<circle cx="204.8" cy="1112.0" r="2.3" fill="#ff00ff"/>
<circle cx="215.6" cy="1115.0" r="2.3" fill="#ff00ff"/>
<circle cx="226.4" cy="1104.0" r="2.3" fill="#ff00ff"/>
<polyline points="248.0,1088.2 269.7,1083.0 280.5,1099.5 291.4,1096.5 302.2,1079.0" fill="none" stroke="#ff00ff" stroke-width="1"/>
<circle cx="248.0" cy="1088.2" r="2.3" fill="#ff00ff"/>
<circle cx="269.7" cy="1083.0" r="2.3" fill="#ff00ff"/>
<circle cx="280.5" cy="1099.5" r="2.3" fill="#ff00ff"/>
<circle cx="291.4" cy="1096.5" r="2.3" fill="#ff00ff"/>
<circle cx="302.2" cy="1079.0" r="2.3" fill="#ff00ff"/>
<polyline points="107.3,1315.5 118.2,1279.5 129.0,1259.2 139.8,1259.2 150.6,1240.5 161.4,1215.0 172.3,1205.0 183.1,1220.0 193.9,1210.0 204.8,1188.8 215.6,1202.5 226.4,1221.2 237.2,1218.0 248.0,1203.8 269.7,1205.0 280.5,1181.2 291.4,1183.8 302.2,1203.8 323.8,1183.8 334.6,1197.5 345.5,1183.2 367.1,1203.0 377.9,1203.8 388.8,1224.5 399.6,1224.5 410.4,1204.5 421.2,1166.2 432.1,1224.5 442.9,1225.0 453.7,1225.0 464.5,1241.2 475.4,1184.5 486.2,1146.2 497.0,1204.5 507.8,1184.5 518.7,1241.2 529.5,1170.0 540.3,1185.0 551.1,1185.0 562.0,1204.5 572.8,1261.2 583.6,1185.0 594.5,1185.0 605.3,1165.5 616.1,1127.5 626.9,1146.2 637.8,1150.0 648.6,1146.2 659.4,1166.3 670.2,1166.3 681.0,1165.4 691.9,1184.7 702.7,1166.3 713.5,1177.0 724.3,1183.3 735.2,1166.3 746.0,1166.3 756.8,1166.3 767.6,1179.0 778.5,1166.3 800.1,1205.1 810.9,1184.7 821.8,1184.7 832.6,1166.3 843.4,1147.8 854.2,1166.3 865.1,1128.0 875.9,1128.0 886.7,1128.0 897.5,1148.4 908.4,1128.0 919.2,1146.4 940.8,1146.4 962.5,1184.7 973.3,1211.0" fill="none" stroke="#0000ff" stroke-width="1" stroke-dasharray="1 3"/>
<path d="M101.12 1315.50H113.53M107.33 1309.30V1321.70M102.94 1311.12L111.71 1319.88M102.94 1319.88L111.71 1311.12" stroke="#0000ff" stroke-width="1" fill="none"/>
<path d="M111.95 1279.50H124.35M118.15 1273.30V1285.70M113.77 1275.12L122.53 1283.88M113.77 1283.88L122.53 1275.12" stroke="#0000ff" stroke-width="1" fill="none"/>
<path d="M122.77 1259.25H135.17M128.97 1253.05V1265.45M124.59 1254.87L133.36 1263.63M124.59 1263.63L133.36 1254.87" stroke="#0000ff" stroke-width="1" fill="none"/>
<path d="M133.60 1259.25H146.00M139.80 1253.05V1265.45M135.42 1254.87L144.18 1263.63M135.42 1263.63L144.18 1254.87" stroke="#0000ff" stroke-width="1" fill="none"/>
<path d="M144.43 1240.50H156.82M150.62 1234.30V1246.70M146.24 1236.12L155.01 1244.88M146.24 1244.88L155.01 1236.12" stroke="#0000ff" stroke-width="1" fill="none"/>
<path d="M155.25 1215.00H167.65M161.45 1208.80V1221.20M157.07 1210.62L165.83 1219.38M157.07 1219.38L165.83 1210.62" stroke="#0000ff" stroke-width="1" fill="none"/>
<path d="M166.07 1205.00H178.47M172.27 1198.80V1211.20M167.89 1200.62L176.66 1209.38M167.89 1209.38L176.66 1200.62" stroke="#0000ff" stroke-width="1" fill="none"/>
<path d="M176.90 1220.00H189.30M183.10 1213.80V1226.20M178.72 1215.62L187.48 1224.38M178.72 1224.38L187.48 1215.62" stroke="#0000ff" stroke-width="1" fill="none"/>
<path d="M187.73 1210.00H200.12M193.93 1203.80V1216.20M189.54 1205.62L198.31 1214.38M189.54 1214.38L198.31 1205.62" stroke="#0000ff" stroke-width="1" fill="none"/>
<path d="M198.55 1188.75H210.95M204.75 1182.55V1194.95M200.37 1184.37L209.13 1193.13M200.37 1193.13L209.13 1184.37" stroke="#0000ff" stroke-width="1" fill="none"/>
<path d="M209.38 1202.50H221.77M215.57 1196.30V1208.70M211.19 1198.12L219.96 1206.88M211.19 1206.88L219.96 1198.12" stroke="#0000ff" stroke-width="1" fill="none"/>
<path d="M220.20 1221.25H232.60M226.40 1215.05V1227.45M222.02 1216.87L230.78 1225.63M222.02 1225.63L230.78 1216.87" stroke="#0000ff" stroke-width="1" fill="none"/>
<path d="M231.03 1218.00H243.42M237.22 1211.80V1224.20M232.84 1213.62L241.61 1222.38M232.84 1222.38L241.61 1213.62" stroke="#0000ff" stroke-width="1" fill="none"/>
<path d="M241.85 1203.75H254.25M248.05 1197.55V1209.95M243.67 1199.37L252.43 1208.13M243.67 1208.13L252.43 1199.37" stroke="#0000ff" stroke-width="1" fill="none"/>
<path d="M263.50 1205.00H275.90M269.70 1198.80V1211.20M265.32 1200.62L274.08 1209.38M265.32 1209.38L274.08 1200.62" stroke="#0000ff" stroke-width="1" fill="none"/>
<path d="M274.32 1181.25H286.72M280.52 1175.05V1187.45M276.14 1176.87L284.91 1185.63M276.14 1185.63L284.91 1176.87" stroke="#0000ff" stroke-width="1" fill="none"/>
<path d="M285.15 1183.75H297.55M291.35 1177.55V1189.95M286.97 1179.37L295.73 1188.13M286.97 1188.13L295.73 1179.37" stroke="#0000ff" stroke-width="1" fill="none"/>
<path d="M295.97 1203.75H308.37M302.17 1197.55V1209.95M297.79 1199.37L306.56 1208.13M297.79 1208.13L306.56 1199.37" stroke="#0000ff" stroke-width="1" fill="none"/>
<path d="M317.62 1183.75H330.02M323.82 1177.55V1189.95M319.44 1179.37L328.21 1188.13M319.44 1188.13L328.21 1179.37" stroke="#0000ff" stroke-width="1" fill="none"/>
<path d="M328.45 1197.50H340.85M334.65 1191.30V1203.70M330.27 1193.12L339.03 1201.88M330.27 1201.88L339.03 1193.12" stroke="#0000ff" stroke-width="1" fill="none"/>
<path d="M339.28 1183.25H351.68M345.48 1177.05V1189.45M341.09 1178.87L349.86 1187.63M341.09 1187.63L349.86 1178.87" stroke="#0000ff" stroke-width="1" fill="none"/>
<path d="M360.93 1203.00H373.32M367.12 1196.80V1209.20M362.74 1198.62L371.51 1207.38M362.74 1207.38L371.51 1198.62" stroke="#0000ff" stroke-width="1" fill="none"/>
<path d="M371.75 1203.75H384.15M377.95 1197.55V1209.95M373.57 1199.37L382.33 1208.13M373.57 1208.13L382.33 1199.37" stroke="#0000ff" stroke-width="1" fill="none"/>
<path d="M382.57 1224.50H394.97M388.77 1218.30V1230.70M384.39 1220.12L393.16 1228.88M384.39 1228.88L393.16 1220.12" stroke="#0000ff" stroke-width="1" fill="none"/>
<path d="M393.40 1224.50H405.80M399.60 1218.30V1230.70M395.22 1220.12L403.98 1228.88M395.22 1228.88L403.98 1220.12" stroke="#0000ff" stroke-width="1" fill="none"/>
<path d="M404.22 1204.50H416.62M410.42 1198.30V1210.70M406.04 1200.12L414.81 1208.88M406.04 1208.88L414.81 1200.12" stroke="#0000ff" stroke-width="1" fill="none"/>
<path d="M415.05 1166.25H427.45M421.25 1160.05V1172.45M416.87 1161.87L425.63 1170.63M416.87 1170.63L425.63 1161.87" stroke="#0000ff" stroke-width="1" fill="none"/>
<path d="M425.88 1224.50H438.27M432.07 1218.30V1230.70M427.69 1220.12L436.46 1228.88M427.69 1228.88L436.46 1220.12" stroke="#0000ff" stroke-width="1" fill="none"/>
<path d="M436.70 1225.00H449.10M442.90 1218.80V1231.20M438.52 1220.62L447.28 1229.38M438.52 1229.38L447.28 1220.62" stroke="#0000ff" stroke-width="1" fill="none"/>
<path d="M447.52 1225.00H459.92M453.72 1218.80V1231.20M449.34 1220.62L458.11 1229.38M449.34 1229.38L458.11 1220.62" stroke="#0000ff" stroke-width="1" fill="none"/>
<path d="M458.35 1241.25H470.75M464.55 1235.05V1247.45M460.17 1236.87L468.93 1245.63M460.17 1245.63L468.93 1236.87" stroke="#0000ff" stroke-width="1" fill="none"/>
<path d="M469.18 1184.50H481.57M475.38 1178.30V1190.70M470.99 1180.12L479.76 1188.88M470.99 1188.88L479.76 1180.12" stroke="#0000ff" stroke-width="1" fill="none"/>
<path d="M480.00 1146.25H492.40M486.20 1140.05V1152.45M481.82 1141.87L490.58 1150.63M481.82 1150.63L490.58 1141.87" stroke="#0000ff" stroke-width="1" fill="none"/>
<path d="M490.82 1204.50H503.22M497.02 1198.30V1210.70M492.64 1200.12L501.41 1208.88M492.64 1208.88L501.41 1200.12" stroke="#0000ff" stroke-width="1" fill="none"/>
<path d="M501.65 1184.50H514.05M507.85 1178.30V1190.70M503.47 1180.12L512.23 1188.88M503.47 1188.88L512.23 1180.12" stroke="#0000ff" stroke-width="1" fill="none"/>
<path d="M512.47 1241.25H524.88M518.67 1235.05V1247.45M514.29 1236.87L523.06 1245.63M514.29 1245.63L523.06 1236.87" stroke="#0000ff" stroke-width="1" fill="none"/>
<path d="M523.30 1170.00H535.70M529.50 1163.80V1176.20M525.12 1165.62L533.88 1174.38M525.12 1174.38L533.88 1165.62" stroke="#0000ff" stroke-width="1" fill="none"/>
<path d="M534.12 1185.00H546.53M540.33 1178.80V1191.20M535.94 1180.62L544.71 1189.38M535.94 1189.38L544.71 1180.62" stroke="#0000ff" stroke-width="1" fill="none"/>
<path d="M544.95 1185.00H557.35M551.15 1178.80V1191.20M546.77 1180.62L555.53 1189.38M546.77 1189.38L555.53 1180.62" stroke="#0000ff" stroke-width="1" fill="none"/>
<path d="M555.77 1204.50H568.17M561.97 1198.30V1210.70M557.59 1200.12L566.36 1208.88M557.59 1208.88L566.36 1200.12" stroke="#0000ff" stroke-width="1" fill="none"/>
<path d="M566.60 1261.25H579.00M572.80 1255.05V1267.45M568.42 1256.87L577.18 1265.63M568.42 1265.63L577.18 1256.87" stroke="#0000ff" stroke-width="1" fill="none"/>
<path d="M577.42 1185.00H589.83M583.62 1178.80V1191.20M579.24 1180.62L588.01 1189.38M579.24 1189.38L588.01 1180.62" stroke="#0000ff" stroke-width="1" fill="none"/>
<path d="M588.25 1185.00H600.65M594.45 1178.80V1191.20M590.07 1180.62L598.83 1189.38M590.07 1189.38L598.83 1180.62" stroke="#0000ff" stroke-width="1" fill="none"/>
<path d="M599.07 1165.50H611.48M605.27 1159.30V1171.70M600.89 1161.12L609.66 1169.88M600.89 1169.88L609.66 1161.12" stroke="#0000ff" stroke-width="1" fill="none"/>
<path d="M609.90 1127.50H622.30M616.10 1121.30V1133.70M611.72 1123.12L620.48 1131.88M611.72 1131.88L620.48 1123.12" stroke="#0000ff" stroke-width="1" fill="none"/>
<path d="M620.72 1146.25H633.12M626.92 1140.05V1152.45M622.54 1141.87L631.31 1150.63M622.54 1150.63L631.31 1141.87" stroke="#0000ff" stroke-width="1" fill="none"/>
<path d="M631.55 1150.00H643.95M637.75 1143.80V1156.20M633.37 1145.62L642.13 1154.38M633.37 1154.38L642.13 1145.62" stroke="#0000ff" stroke-width="1" fill="none"/>
<path d="M642.37 1146.25H654.77M648.57 1140.05V1152.45M644.19 1141.87L652.96 1150.63M644.19 1150.63L652.96 1141.87" stroke="#0000ff" stroke-width="1" fill="none"/>
<path d="M653.20 1166.26H665.60M659.40 1160.06V1172.46M655.02 1161.88L663.78 1170.65M655.02 1170.65L663.78 1161.88" stroke="#0000ff" stroke-width="1" fill="none"/>
<path d="M664.02 1166.26H676.42M670.22 1160.06V1172.46M665.84 1161.88L674.61 1170.65M665.84 1170.65L674.61 1161.88" stroke="#0000ff" stroke-width="1" fill="none"/>
<path d="M674.85 1165.41H687.25M681.05 1159.21V1171.61M676.67 1161.03L685.43 1169.80M676.67 1169.80L685.43 1161.03" stroke="#0000ff" stroke-width="1" fill="none"/>
<path d="M685.67 1184.68H698.08M691.88 1178.48V1190.88M687.49 1180.30L696.26 1189.07M687.49 1189.07L696.26 1180.30" stroke="#0000ff" stroke-width="1" fill="none"/>
<path d="M696.50 1166.26H708.90M702.70 1160.06V1172.46M698.32 1161.88L707.08 1170.65M698.32 1170.65L707.08 1161.88" stroke="#0000ff" stroke-width="1" fill="none"/>
<path d="M707.32 1177.03H719.73M713.52 1170.83V1183.23M709.14 1172.65L717.91 1181.41M709.14 1181.41L717.91 1172.65" stroke="#0000ff" stroke-width="1" fill="none"/>
<path d="M718.15 1183.26H730.55M724.35 1177.06V1189.46M719.97 1178.88L728.73 1187.65M719.97 1187.65L728.73 1178.88" stroke="#0000ff" stroke-width="1" fill="none"/>
<path d="M728.97 1166.26H741.38M735.17 1160.06V1172.46M730.79 1161.88L739.56 1170.65M730.79 1170.65L739.56 1161.88" stroke="#0000ff" stroke-width="1" fill="none"/>
<path d="M739.80 1166.26H752.20M746.00 1160.06V1172.46M741.62 1161.88L750.38 1170.65M741.62 1170.65L750.38 1161.88" stroke="#0000ff" stroke-width="1" fill="none"/>
<path d="M750.62 1166.26H763.02M756.82 1160.06V1172.46M752.44 1161.88L761.21 1170.65M752.44 1170.65L761.21 1161.88" stroke="#0000ff" stroke-width="1" fill="none"/>
<path d="M761.45 1179.01H773.85M767.65 1172.81V1185.21M763.27 1174.63L772.03 1183.40M763.27 1183.40L772.03 1174.63" stroke="#0000ff" stroke-width="1" fill="none"/>
<path d="M772.27 1166.26H784.67M778.47 1160.06V1172.46M774.09 1161.88L782.86 1170.65M774.09 1170.65L782.86 1161.88" stroke="#0000ff" stroke-width="1" fill="none"/>
<path d="M793.92 1205.08H806.33M800.12 1198.88V1211.28M795.74 1200.70L804.51 1209.47M795.74 1209.47L804.51 1200.70" stroke="#0000ff" stroke-width="1" fill="none"/>
<path d="M804.75 1184.68H817.15M810.95 1178.48V1190.88M806.57 1180.30L815.33 1189.07M806.57 1189.07L815.33 1180.30" stroke="#0000ff" stroke-width="1" fill="none"/>
<path d="M815.57 1184.68H827.98M821.77 1178.48V1190.88M817.39 1180.30L826.16 1189.07M817.39 1189.07L826.16 1180.30" stroke="#0000ff" stroke-width="1" fill="none"/>
<path d="M826.40 1166.26H838.80M832.60 1160.06V1172.46M828.22 1161.88L836.98 1170.65M828.22 1170.65L836.98 1161.88" stroke="#0000ff" stroke-width="1" fill="none"/>
<path d="M837.22 1147.84H849.62M843.42 1141.64V1154.04M839.04 1143.46L847.81 1152.23M839.04 1152.23L847.81 1143.46" stroke="#0000ff" stroke-width="1" fill="none"/>
<path d="M848.05 1166.26H860.45M854.25 1160.06V1172.46M849.87 1161.88L858.63 1170.65M849.87 1170.65L858.63 1161.88" stroke="#0000ff" stroke-width="1" fill="none"/>
<path d="M858.87 1128.01H871.27M865.07 1121.81V1134.21M860.69 1123.62L869.46 1132.39M860.69 1132.39L869.46 1123.62" stroke="#0000ff" stroke-width="1" fill="none"/>
<path d="M869.70 1128.01H882.10M875.90 1121.81V1134.21M871.52 1123.62L880.28 1132.39M871.52 1132.39L880.28 1123.62" stroke="#0000ff" stroke-width="1" fill="none"/>
<path d="M880.52 1128.01H892.92M886.72 1121.81V1134.21M882.34 1123.62L891.11 1132.39M882.34 1132.39L891.11 1123.62" stroke="#0000ff" stroke-width="1" fill="none"/>
<path d="M891.35 1148.41H903.75M897.55 1142.21V1154.61M893.17 1144.03L901.93 1152.79M893.17 1152.79L901.93 1144.03" stroke="#0000ff" stroke-width="1" fill="none"/>
<path d="M902.17 1128.01H914.58M908.38 1121.81V1134.21M903.99 1123.62L912.76 1132.39M903.99 1132.39L912.76 1123.62" stroke="#0000ff" stroke-width="1" fill="none"/>
<path d="M913.00 1146.43H925.40M919.20 1140.23V1152.63M914.82 1142.04L923.58 1150.81M914.82 1150.81L923.58 1142.04" stroke="#0000ff" stroke-width="1" fill="none"/>
<path d="M934.65 1146.43H947.05M940.85 1140.23V1152.63M936.47 1142.04L945.23 1150.81M936.47 1150.81L945.23 1142.04" stroke="#0000ff" stroke-width="1" fill="none"/>
<path d="M956.30 1184.68H968.70M962.50 1178.48V1190.88M958.12 1180.30L966.88 1189.07M958.12 1189.07L966.88 1180.30" stroke="#0000ff" stroke-width="1" fill="none"/>
<path d="M967.12 1211.03H979.52M973.32 1204.83V1217.23M968.94 1206.65L977.71 1215.42M968.94 1215.42L977.71 1206.65" stroke="#0000ff" stroke-width="1" fill="none"/>
<polyline points="107.3,1315.5 118.2,1279.5 129.0,1256.2 139.8,1258.8 150.6,1238.8 161.4,1210.8 172.3,1203.2 183.1,1219.2 193.9,1209.2 204.8,1188.8 215.6,1201.8 226.4,1220.0 237.2,1216.2 248.0,1202.5 269.7,1196.2 280.5,1177.0 291.4,1183.0 302.2,1199.5 323.8,1181.8 334.6,1195.8 345.5,1180.8 367.1,1198.8 377.9,1202.0 388.8,1215.0 399.6,1213.8 410.4,1197.5 421.2,1161.8 432.1,1215.0 442.9,1219.2 453.7,1220.0 464.5,1235.8 475.4,1181.2 486.2,1144.5 497.0,1203.2 507.8,1182.5 518.7,1231.2 529.5,1166.8 540.3,1178.0 551.1,1182.0 562.0,1199.5 572.8,1258.8 583.6,1183.8 594.5,1182.5 605.3,1164.5 616.1,1123.8 626.9,1145.0 637.8,1147.5 648.6,1144.2 659.4,1164.3 670.2,1163.4 681.0,1162.6 691.9,1180.4 702.7,1164.0 713.5,1174.2 724.3,1181.3 735.2,1164.0 746.0,1161.4 756.8,1161.2 767.6,1177.0 778.5,1160.6 800.1,1196.6 810.9,1181.0 821.8,1182.4 832.6,1159.2 843.4,1144.2 854.2,1164.8 865.1,1125.2 875.9,1126.6 886.7,1124.6 897.5,1140.8 908.4,1128.0 919.2,1142.2 940.8,1145.0 962.5,1181.3 973.3,1208.8" fill="none" stroke="#000" stroke-width="1" stroke-dasharray="8 3 1 3"/>
<circle cx="107.3" cy="1315.5" r="6" fill="none" stroke="#000" stroke-width="1"/>
<circle cx="118.2" cy="1279.5" r="6" fill="none" stroke="#000" stroke-width="1"/>
<circle cx="129.0" cy="1256.2" r="6" fill="none" stroke="#000" stroke-width="1"/>
<circle cx="139.8" cy="1258.8" r="6" fill="none" stroke="#000" stroke-width="1"/>
<circle cx="150.6" cy="1238.8" r="6" fill="none" stroke="#000" stroke-width="1"/>
<circle cx="161.4" cy="1210.8" r="6" fill="none" stroke="#000" stroke-width="1"/>
<circle cx="172.3" cy="1203.2" r="6" fill="none" stroke="#000" stroke-width="1"/>
<circle cx="183.1" cy="1219.2" r="6" fill="none" stroke="#000" stroke-width="1"/>
<circle cx="193.9" cy="1209.2" r="6" fill="none" stroke="#000" stroke-width="1"/>
<circle cx="204.8" cy="1188.8" r="6" fill="none" stroke="#000" stroke-width="1"/>
<circle cx="215.6" cy="1201.8" r="6" fill="none" stroke="#000" stroke-width="1"/>
<circle cx="226.4" cy="1220.0" r="6" fill="none" stroke="#000" stroke-width="1"/>
<circle cx="237.2" cy="1216.2" r="6" fill="none" stroke="#000" stroke-width="1"/>
<circle cx="248.0" cy="1202.5" r="6" fill="none" stroke="#000" stroke-width="1"/>
<circle cx="269.7" cy="1196.2" r="6" fill="none" stroke="#000" stroke-width="1"/>
<circle cx="280.5" cy="1177.0" r="6" fill="none" stroke="#000" stroke-width="1"/>
<circle cx="291.4" cy="1183.0" r="6" fill="none" stroke="#000" stroke-width="1"/>
<circle cx="302.2" cy="1199.5" r="6" fill="none" stroke="#000" stroke-width="1"/>
<circle cx="323.8" cy="1181.8" r="6" fill="none" stroke="#000" stroke-width="1"/>
<circle cx="334.6" cy="1195.8" r="6" fill="none" stroke="#000" stroke-width="1"/>
<circle cx="345.5" cy="1180.8" r="6" fill="none" stroke="#000" stroke-width="1"/>
<circle cx="367.1" cy="1198.8" r="6" fill="none" stroke="#000" stroke-width="1"/>
<circle cx="377.9" cy="1202.0" r="6" fill="none" stroke="#000" stroke-width="1"/>
<circle cx="388.8" cy="1215.0" r="6" fill="none" stroke="#000" stroke-width="1"/>
<circle cx="399.6" cy="1213.8" r="6" fill="none" stroke="#000" stroke-width="1"/>
<circle cx="410.4" cy="1197.5" r="6" fill="none" stroke="#000" stroke-width="1"/>
<circle cx="421.2" cy="1161.8" r="6" fill="none" stroke="#000" stroke-width="1"/>
<circle cx="432.1" cy="1215.0" r="6" fill="none" stroke="#000" stroke-width="1"/>
<circle cx="442.9" cy="1219.2" r="6" fill="none" stroke="#000" stroke-width="1"/>
<circle cx="453.7" cy="1220.0" r="6" fill="none" stroke="#000" stroke-width="1"/>
<circle cx="464.5" cy="1235.8" r="6" fill="none" stroke="#000" stroke-width="1"/>
<circle cx="475.4" cy="1181.2" r="6" fill="none" stroke="#000" stroke-width="1"/>
<circle cx="486.2" cy="1144.5" r="6" fill="none" stroke="#000" stroke-width="1"/>
<circle cx="497.0" cy="1203.2" r="6" fill="none" stroke="#000" stroke-width="1"/>
<circle cx="507.8" cy="1182.5" r="6" fill="none" stroke="#000" stroke-width="1"/>
<circle cx="518.7" cy="1231.2" r="6" fill="none" stroke="#000" stroke-width="1"/>
<circle cx="529.5" cy="1166.8" r="6" fill="none" stroke="#000" stroke-width="1"/>
<circle cx="540.3" cy="1178.0" r="6" fill="none" stroke="#000" stroke-width="1"/>
<circle cx="551.1" cy="1182.0" r="6" fill="none" stroke="#000" stroke-width="1"/>
<circle cx="562.0" cy="1199.5" r="6" fill="none" stroke="#000" stroke-width="1"/>
<circle cx="572.8" cy="1258.8" r="6" fill="none" stroke="#000" stroke-width="1"/>
<circle cx="583.6" cy="1183.8" r="6" fill="none" stroke="#000" stroke-width="1"/>
<circle cx="594.5" cy="1182.5" r="6" fill="none" stroke="#000" stroke-width="1"/>
<circle cx="605.3" cy="1164.5" r="6" fill="none" stroke="#000" stroke-width="1"/>
<circle cx="616.1" cy="1123.8" r="6" fill="none" stroke="#000" stroke-width="1"/>
<circle cx="626.9" cy="1145.0" r="6" fill="none" stroke="#000" stroke-width="1"/>
<circle cx="637.8" cy="1147.5" r="6" fill="none" stroke="#000" stroke-width="1"/>
<circle cx="648.6" cy="1144.2" r="6" fill="none" stroke="#000" stroke-width="1"/>
<circle cx="659.4" cy="1164.3" r="6" fill="none" stroke="#000" stroke-width="1"/>
<circle cx="670.2" cy="1163.4" r="6" fill="none" stroke="#000" stroke-width="1"/>
<circle cx="681.0" cy="1162.6" r="6" fill="none" stroke="#000" stroke-width="1"/>
<circle cx="691.9" cy="1180.4" r="6" fill="none" stroke="#000" stroke-width="1"/>
<circle cx="702.7" cy="1164.0" r="6" fill="none" stroke="#000" stroke-width="1"/>
<circle cx="713.5" cy="1174.2" r="6" fill="none" stroke="#000" stroke-width="1"/>
<circle cx="724.3" cy="1181.3" r="6" fill="none" stroke="#000" stroke-width="1"/>
<circle cx="735.2" cy="1164.0" r="6" fill="none" stroke="#000" stroke-width="1"/>
<circle cx="746.0" cy="1161.4" r="6" fill="none" stroke="#000" stroke-width="1"/>
<circle cx="756.8" cy="1161.2" r="6" fill="none" stroke="#000" stroke-width="1"/>
<circle cx="767.6" cy="1177.0" r="6" fill="none" stroke="#000" stroke-width="1"/>
<circle cx="778.5" cy="1160.6" r="6" fill="none" stroke="#000" stroke-width="1"/>
<circle cx="800.1" cy="1196.6" r="6" fill="none" stroke="#000" stroke-width="1"/>
<circle cx="810.9" cy="1181.0" r="6" fill="none" stroke="#000" stroke-width="1"/>
<circle cx="821.8" cy="1182.4" r="6" fill="none" stroke="#000" stroke-width="1"/>
<circle cx="832.6" cy="1159.2" r="6" fill="none" stroke="#000" stroke-width="1"/>
<circle cx="843.4" cy="1144.2" r="6" fill="none" stroke="#000" stroke-width="1"/>
<circle cx="854.2" cy="1164.8" r="6" fill="none" stroke="#000" stroke-width="1"/>
<circle cx="865.1" cy="1125.2" r="6" fill="none" stroke="#000" stroke-width="1"/>
<circle cx="875.9" cy="1126.6" r="6" fill="none" stroke="#000" stroke-width="1"/>
<circle cx="886.7" cy="1124.6" r="6" fill="none" stroke="#000" stroke-width="1"/>
<circle cx="897.5" cy="1140.8" r="6" fill="none" stroke="#000" stroke-width="1"/>
<circle cx="908.4" cy="1128.0" r="6" fill="none" stroke="#000" stroke-width="1"/>
<circle cx="919.2" cy="1142.2" r="6" fill="none" stroke="#000" stroke-width="1"/>
<circle cx="940.8" cy="1145.0" r="6" fill="none" stroke="#000" stroke-width="1"/>
<circle cx="962.5" cy="1181.3" r="6" fill="none" stroke="#000" stroke-width="1"/>
<circle cx="973.3" cy="1208.8" r="6" fill="none" stroke="#000" stroke-width="1"/>
<polyline points="689.4,266.5 689.2,276.3 686.7,287.5 687.5,293.0 690.8,294.2 693.3,291.7 696.3,285.3 700.0,275.0 702.5,265.0 706.7,267.5 707.5,278.0 710.8,286.7 713.7,285.0 717.8,275.3 725.0,264.2 732.5,259.2 737.5,260.0 740.8,266.7 741.7,272.5 744.2,273.3 746.7,271.7 750.8,263.3 756.7,254.2 761.3,247.0 768.7,241.2 776.7,248.3 779.5,266.2 784.5,274.2 788.3,259.7 797.5,248.3 810.3,241.2 822.5,239.5 831.3,247.0 834.2,260.0 838.7,259.5 841.7,248.3 842.5,236.7 844.2,231.7 849.2,228.0 852.5,232.5 853.3,242.0 853.3,258.8 859.2,266.3 869.8,263.3 881.3,258.3 888.7,262.5 897.3,262.3 904.2,251.3 910.2,244.8 913.0,242.6 915.0,241.0 916.8,239.6 902.5,231.8 904.5,230.8 906.5,229.8 908.5,228.8 910.5,227.8 912.5,226.8 904.2,221.0 913.8,225.1 916.8,227.6 919.8,230.6 924.8,238.4 930.3,253.5 935.8,271.4 942.2,280.1 945.7,271.4 945.7,263.6 944.8,257.2 943.2,250.3 938.4,246.2 982.6,211.3 946.4,177.3 946.4,171.5" fill="none" stroke="#000" stroke-width="1"/>
<circle cx="689.5" cy="258.3" r="5.7" fill="#000080" stroke="#000" stroke-width="1.25"/>
<circle cx="689.2" cy="276.3" r="5.7" fill="#00008c" stroke="#000" stroke-width="1.25"/>
<circle cx="686.7" cy="287.5" r="5.7" fill="#00009e" stroke="#000" stroke-width="1.25"/>
<circle cx="687.5" cy="293.0" r="5.7" fill="#0000ad" stroke="#000" stroke-width="1.25"/>
<circle cx="690.8" cy="294.2" r="5.7" fill="#0000bd" stroke="#000" stroke-width="1.25"/>
<circle cx="693.3" cy="291.7" r="5.7" fill="#0000cc" stroke="#000" stroke-width="1.25"/>
<circle cx="696.3" cy="285.3" r="5.7" fill="#0000db" stroke="#000" stroke-width="1.25"/>
<circle cx="700.0" cy="275.0" r="5.7" fill="#0000eb" stroke="#000" stroke-width="1.25"/>
<circle cx="702.5" cy="265.0" r="5.7" fill="#0000fa" stroke="#000" stroke-width="1.25"/>
<circle cx="706.7" cy="267.5" r="5.7" fill="#0005ff" stroke="#000" stroke-width="1.25"/>
<circle cx="707.5" cy="278.0" r="5.7" fill="#000fff" stroke="#000" stroke-width="1.25"/>
<circle cx="710.8" cy="286.7" r="5.7" fill="#001aff" stroke="#000" stroke-width="1.25"/>
<circle cx="713.7" cy="285.0" r="5.7" fill="#0024ff" stroke="#000" stroke-width="1.25"/>
<circle cx="717.8" cy="275.3" r="5.7" fill="#002eff" stroke="#000" stroke-width="1.25"/>
<circle cx="725.0" cy="264.2" r="5.7" fill="#0047ff" stroke="#000" stroke-width="1.25"/>
<circle cx="732.5" cy="259.2" r="5.7" fill="#0057ff" stroke="#000" stroke-width="1.25"/>
<circle cx="737.5" cy="260.0" r="5.7" fill="#0066ff" stroke="#000" stroke-width="1.25"/>
<circle cx="740.8" cy="266.7" r="5.7" fill="#0070ff" stroke="#000" stroke-width="1.25"/>
<circle cx="741.7" cy="272.5" r="5.7" fill="#007aff" stroke="#000" stroke-width="1.25"/>
<circle cx="744.2" cy="273.3" r="5.7" fill="#0085ff" stroke="#000" stroke-width="1.25"/>
<circle cx="746.7" cy="271.7" r="5.7" fill="#008fff" stroke="#000" stroke-width="1.25"/>
<circle cx="750.8" cy="263.3" r="5.7" fill="#00a3ff" stroke="#000" stroke-width="1.25"/>
<circle cx="756.7" cy="254.2" r="5.7" fill="#00b3ff" stroke="#000" stroke-width="1.25"/>
<circle cx="761.3" cy="247.0" r="5.7" fill="#00c2ff" stroke="#000" stroke-width="1.25"/>
<circle cx="768.7" cy="241.2" r="5.7" fill="#00d6ff" stroke="#000" stroke-width="1.25"/>
<circle cx="776.7" cy="248.3" r="5.7" fill="#00e5ff" stroke="#000" stroke-width="1.25"/>
<circle cx="779.5" cy="266.2" r="5.7" fill="#00f5ff" stroke="#000" stroke-width="1.25"/>
<circle cx="784.5" cy="274.2" r="5.7" fill="#00ffff" stroke="#000" stroke-width="1.25"/>
<circle cx="788.3" cy="259.7" r="5.7" fill="#0afff5" stroke="#000" stroke-width="1.25"/>
<circle cx="797.5" cy="248.3" r="5.7" fill="#1affe5" stroke="#000" stroke-width="1.25"/>
<circle cx="810.3" cy="241.2" r="5.7" fill="#2effd1" stroke="#000" stroke-width="1.25"/>
<circle cx="822.5" cy="239.5" r="5.7" fill="#42ffbd" stroke="#000" stroke-width="1.25"/>
<circle cx="831.3" cy="247.0" r="5.7" fill="#52ffad" stroke="#000" stroke-width="1.25"/>
<circle cx="834.2" cy="260.0" r="5.7" fill="#5cffa3" stroke="#000" stroke-width="1.25"/>
<circle cx="838.7" cy="259.5" r="5.7" fill="#66ff99" stroke="#000" stroke-width="1.25"/>
<circle cx="841.7" cy="248.3" r="5.7" fill="#70ff8f" stroke="#000" stroke-width="1.25"/>
<circle cx="842.5" cy="236.7" r="5.7" fill="#7aff85" stroke="#000" stroke-width="1.25"/>
<circle cx="844.2" cy="231.7" r="5.7" fill="#85ff7a" stroke="#000" stroke-width="1.25"/>
<circle cx="849.2" cy="228.0" r="5.7" fill="#8fff70" stroke="#000" stroke-width="1.25"/>
<circle cx="852.5" cy="232.5" r="5.7" fill="#9eff61" stroke="#000" stroke-width="1.25"/>
<circle cx="853.3" cy="242.0" r="5.7" fill="#adff52" stroke="#000" stroke-width="1.25"/>
<circle cx="853.3" cy="258.8" r="5.7" fill="#bdff42" stroke="#000" stroke-width="1.25"/>
<circle cx="859.2" cy="266.3" r="5.7" fill="#c7ff38" stroke="#000" stroke-width="1.25"/>
<circle cx="869.8" cy="263.3" r="5.7" fill="#d6ff29" stroke="#000" stroke-width="1.25"/>
<circle cx="881.3" cy="258.3" r="5.7" fill="#e5ff1a" stroke="#000" stroke-width="1.25"/>
<circle cx="888.7" cy="262.5" r="5.7" fill="#f2ff0d" stroke="#000" stroke-width="1.25"/>
<circle cx="897.3" cy="262.3" r="5.7" fill="#fcff03" stroke="#000" stroke-width="1.25"/>
<circle cx="904.2" cy="251.3" r="5.7" fill="#fff800" stroke="#000" stroke-width="1.25"/>
<circle cx="910.2" cy="244.8" r="5.7" fill="#ffee00" stroke="#000" stroke-width="1.25"/>
<circle cx="913.0" cy="242.6" r="5.7" fill="#ffe500" stroke="#000" stroke-width="1.25"/>
<circle cx="915.0" cy="241.0" r="5.7" fill="#ffdd00" stroke="#000" stroke-width="1.25"/>
<circle cx="916.8" cy="239.6" r="5.7" fill="#ffd500" stroke="#000" stroke-width="1.25"/>
<circle cx="902.5" cy="231.8" r="5.7" fill="#ff8a00" stroke="#000" stroke-width="1.25"/>
<circle cx="904.5" cy="230.8" r="5.7" fill="#ff8500" stroke="#000" stroke-width="1.25"/>
<circle cx="906.5" cy="229.8" r="5.7" fill="#ff8000" stroke="#000" stroke-width="1.25"/>
<circle cx="908.5" cy="228.8" r="5.7" fill="#ff7a00" stroke="#000" stroke-width="1.25"/>
<circle cx="910.5" cy="227.8" r="5.7" fill="#ff7500" stroke="#000" stroke-width="1.25"/>
<circle cx="912.5" cy="226.8" r="5.7" fill="#ff7000" stroke="#000" stroke-width="1.25"/>
<circle cx="904.2" cy="221.0" r="5.7" fill="#ff6100" stroke="#000" stroke-width="1.25"/>
<circle cx="913.8" cy="225.1" r="5.7" fill="#ff5200" stroke="#000" stroke-width="1.25"/>
<circle cx="916.8" cy="227.6" r="5.7" fill="#ff4700" stroke="#000" stroke-width="1.25"/>
<circle cx="919.8" cy="230.6" r="5.7" fill="#ff3d00" stroke="#000" stroke-width="1.25"/>
<circle cx="924.8" cy="238.4" r="5.7" fill="#ff2e00" stroke="#000" stroke-width="1.25"/>
<circle cx="930.3" cy="253.5" r="5.7" fill="#ff1f00" stroke="#000" stroke-width="1.25"/>
<circle cx="935.8" cy="271.4" r="5.7" fill="#ff0f00" stroke="#000" stroke-width="1.25"/>
<circle cx="942.2" cy="280.1" r="5.7" fill="#ff0000" stroke="#000" stroke-width="1.25"/>
<circle cx="945.7" cy="271.4" r="5.7" fill="#f00000" stroke="#000" stroke-width="1.25"/>
<circle cx="945.7" cy="263.6" r="5.7" fill="#e50000" stroke="#000" stroke-width="1.25"/>
<circle cx="944.8" cy="257.2" r="5.7" fill="#db0000" stroke="#000" stroke-width="1.25"/>
<circle cx="943.2" cy="250.3" r="5.7" fill="#cc0000" stroke="#000" stroke-width="1.25"/>
<circle cx="938.4" cy="246.2" r="5.7" fill="#ad0000" stroke="#000" stroke-width="1.25"/>
<circle cx="982.6" cy="211.3" r="5.7" fill="#a30000" stroke="#000" stroke-width="1.25"/>
<circle cx="946.4" cy="177.3" r="5.7" fill="#990000" stroke="#000" stroke-width="1.25"/>
<circle cx="946.4" cy="171.5" r="5.7" fill="#8a0000" stroke="#000" stroke-width="1.25"/>
<path d="M683.2 258.3H695.8M689.5 252.0V264.6M685.05 253.85L693.95 262.75M685.05 262.75L693.95 253.85" stroke="#fff" stroke-width="0.95" fill="none"/>
<circle cx="841.2" cy="93.3" r="1.15" fill="#000"/>
<circle cx="891" cy="131" r="1.25" fill="#000"/>
<circle cx="933.3" cy="147" r="1.25" fill="#000"/>
<circle cx="819.3" cy="320.2" r="1.5" fill="#000"/>
<circle cx="956.2" cy="185" r="1.3" fill="#000"/>
<path d="M959.6 180.8L960.0 177.5L961.7 175.4L963.3 176.2L963.3 178.3L961.7 181.2Z" fill="#000" stroke="#000" stroke-width="1"/>
<path d="M967.1 172.5L968.8 170.0L972.5 169.2L975.0 170.4L975.0 174.6L974.2 177.9L970.4 179.2L967.9 177.1L966.7 174.6Z" fill="none" stroke="#000" stroke-width="1.6" stroke-linejoin="round"/>
<path d="M995.0 183.3L996.7 185.8L997.9 190.4L1000.4 194.2L998.3 195.8L995.4 195.4L992.9 196.2L990.8 188.8L990.8 186.2Z" fill="none" stroke="#000" stroke-width="1.6" stroke-linejoin="round"/>
<path d="M1005.4 196.7L1010.0 196.7L1014.2 197.5L1013.8 200.0L1010.8 202.1L1005.4 201.2Z" fill="none" stroke="#000" stroke-width="1.6" stroke-linejoin="round"/>
<path d="M1008.8 205.8L1012.5 205.8L1012.9 209.2L1010.4 210.4L1009.0 208.8Z" fill="#333" stroke="#000" stroke-width="1.5" stroke-linejoin="round"/>
<path d="M1014.6 202.9L1016.7 202.9L1019.2 204.6L1022.5 205.4L1026.2 210.4L1021.7 212.9L1017.9 214.2L1018.3 210.0L1016.7 207.5L1015.0 205.4Z" fill="none" stroke="#000" stroke-width="1.6" stroke-linejoin="round"/>
<path d="M1014.6 215.4L1016.7 213.8L1017.9 214.6L1015.4 216.7Z" fill="#000" stroke="#000" stroke-width="1"/>
<path d="M1027.1 222.5L1028.8 222.9L1032.5 227.1L1037.1 229.6L1039.6 232.5L1040.4 236.7L1042.1 240.4L1044.6 242.9L1042.1 246.2L1039.6 248.8L1035.8 250.8L1033.3 253.3L1030.4 259.2L1025.4 253.8L1027.5 251.7L1027.1 245.0L1024.6 242.1L1023.8 237.9L1025.4 233.8L1027.5 231.7L1027.1 226.7Z" fill="none" stroke="#000" stroke-width="1.6" stroke-linejoin="round"/>
</svg></body></html>
